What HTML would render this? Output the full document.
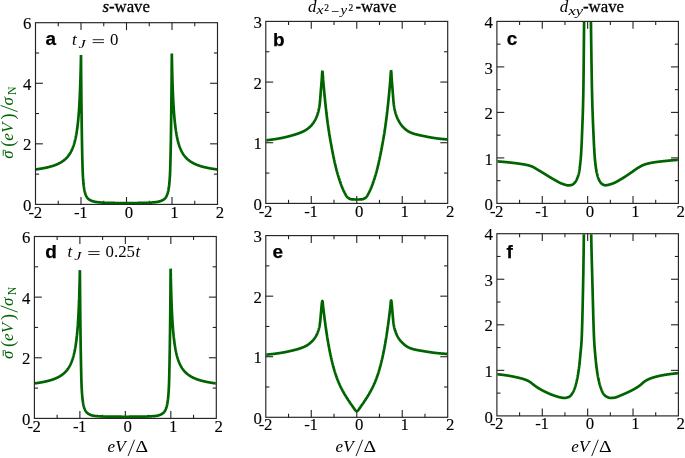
<!DOCTYPE html>
<html><head><meta charset="utf-8"><title>figure</title>
<style>html,body{margin:0;padding:0;background:#fff;}svg{display:block;will-change:transform;}text{font-family:"Liberation Serif",serif;}</style></head>
<body>
<svg width="685" height="458" viewBox="0 0 685 458">
<rect width="685" height="458" fill="#fff"/>
<defs>
<clipPath id="clipa"><rect x="36.00" y="23.20" width="181.00" height="181.10"/></clipPath>
<clipPath id="clipb"><rect x="266.30" y="21.90" width="180.90" height="181.40"/></clipPath>
<clipPath id="clipc"><rect x="497.40" y="21.90" width="180.50" height="181.40"/></clipPath>
<clipPath id="clipd"><rect x="34.90" y="237.00" width="180.90" height="181.30"/></clipPath>
<clipPath id="clipe"><rect x="266.30" y="236.10" width="180.90" height="181.10"/></clipPath>
<clipPath id="clipf"><rect x="497.40" y="234.20" width="180.50" height="181.60"/></clipPath>
</defs>
<line x1="58.25" y1="204.40" x2="58.25" y2="200.80" stroke="#222" stroke-width="1.1"/>
<line x1="58.25" y1="22.70" x2="58.25" y2="26.30" stroke="#222" stroke-width="1.1"/>
<line x1="81.00" y1="204.40" x2="81.00" y2="197.00" stroke="#222" stroke-width="1.1"/>
<line x1="81.00" y1="22.70" x2="81.00" y2="30.10" stroke="#222" stroke-width="1.1"/>
<line x1="103.75" y1="204.40" x2="103.75" y2="200.80" stroke="#222" stroke-width="1.1"/>
<line x1="103.75" y1="22.70" x2="103.75" y2="26.30" stroke="#222" stroke-width="1.1"/>
<line x1="126.50" y1="204.40" x2="126.50" y2="197.00" stroke="#222" stroke-width="1.1"/>
<line x1="126.50" y1="22.70" x2="126.50" y2="30.10" stroke="#222" stroke-width="1.1"/>
<line x1="149.25" y1="204.40" x2="149.25" y2="200.80" stroke="#222" stroke-width="1.1"/>
<line x1="149.25" y1="22.70" x2="149.25" y2="26.30" stroke="#222" stroke-width="1.1"/>
<line x1="172.00" y1="204.40" x2="172.00" y2="197.00" stroke="#222" stroke-width="1.1"/>
<line x1="172.00" y1="22.70" x2="172.00" y2="30.10" stroke="#222" stroke-width="1.1"/>
<line x1="194.75" y1="204.40" x2="194.75" y2="200.80" stroke="#222" stroke-width="1.1"/>
<line x1="194.75" y1="22.70" x2="194.75" y2="26.30" stroke="#222" stroke-width="1.1"/>
<line x1="35.50" y1="143.83" x2="42.90" y2="143.83" stroke="#222" stroke-width="1.1"/>
<line x1="217.50" y1="143.83" x2="210.10" y2="143.83" stroke="#222" stroke-width="1.1"/>
<line x1="35.50" y1="83.27" x2="42.90" y2="83.27" stroke="#222" stroke-width="1.1"/>
<line x1="217.50" y1="83.27" x2="210.10" y2="83.27" stroke="#222" stroke-width="1.1"/>
<line x1="35.50" y1="174.12" x2="39.10" y2="174.12" stroke="#222" stroke-width="1.1"/>
<line x1="217.50" y1="174.12" x2="213.90" y2="174.12" stroke="#222" stroke-width="1.1"/>
<line x1="35.50" y1="113.55" x2="39.10" y2="113.55" stroke="#222" stroke-width="1.1"/>
<line x1="217.50" y1="113.55" x2="213.90" y2="113.55" stroke="#222" stroke-width="1.1"/>
<line x1="35.50" y1="52.98" x2="39.10" y2="52.98" stroke="#222" stroke-width="1.1"/>
<line x1="217.50" y1="52.98" x2="213.90" y2="52.98" stroke="#222" stroke-width="1.1"/>
<rect x="35.50" y="22.70" width="182.00" height="181.70" fill="none" stroke="#222" stroke-width="1.15"/>
<text x="31.50" y="211.00" text-anchor="end" fill="#000" stroke="#000" stroke-width="0.12" style='font-family:"Liberation Serif", serif;font-size:16.8px;' >0</text>
<text x="31.50" y="150.43" text-anchor="end" fill="#000" stroke="#000" stroke-width="0.12" style='font-family:"Liberation Serif", serif;font-size:16.8px;' >2</text>
<text x="31.50" y="89.87" text-anchor="end" fill="#000" stroke="#000" stroke-width="0.12" style='font-family:"Liberation Serif", serif;font-size:16.8px;' >4</text>
<text x="31.50" y="29.30" text-anchor="end" fill="#000" stroke="#000" stroke-width="0.12" style='font-family:"Liberation Serif", serif;font-size:16.8px;' >6</text>
<text x="37.90" y="217.50" text-anchor="middle" fill="#000" stroke="#000" stroke-width="0.12" style='font-family:"Liberation Serif", serif;font-size:16.8px;' >2</text>
<text x="34.10" y="217.50" text-anchor="end" fill="#000" stroke="#000" stroke-width="0.12" style='font-family:"Liberation Serif", serif;font-size:16.8px;' >-</text>
<text x="83.40" y="217.50" text-anchor="middle" fill="#000" stroke="#000" stroke-width="0.12" style='font-family:"Liberation Serif", serif;font-size:16.8px;' >1</text>
<text x="79.60" y="217.50" text-anchor="end" fill="#000" stroke="#000" stroke-width="0.12" style='font-family:"Liberation Serif", serif;font-size:16.8px;' >-</text>
<text x="128.90" y="217.50" text-anchor="middle" fill="#000" stroke="#000" stroke-width="0.12" style='font-family:"Liberation Serif", serif;font-size:16.8px;' >0</text>
<text x="174.40" y="217.50" text-anchor="middle" fill="#000" stroke="#000" stroke-width="0.12" style='font-family:"Liberation Serif", serif;font-size:16.8px;' >1</text>
<text x="219.90" y="217.50" text-anchor="middle" fill="#000" stroke="#000" stroke-width="0.12" style='font-family:"Liberation Serif", serif;font-size:16.8px;' >2</text>
<line x1="288.54" y1="203.40" x2="288.54" y2="199.80" stroke="#222" stroke-width="1.1"/>
<line x1="288.54" y1="21.40" x2="288.54" y2="25.00" stroke="#222" stroke-width="1.1"/>
<line x1="311.27" y1="203.40" x2="311.27" y2="196.00" stroke="#222" stroke-width="1.1"/>
<line x1="311.27" y1="21.40" x2="311.27" y2="28.80" stroke="#222" stroke-width="1.1"/>
<line x1="334.01" y1="203.40" x2="334.01" y2="199.80" stroke="#222" stroke-width="1.1"/>
<line x1="334.01" y1="21.40" x2="334.01" y2="25.00" stroke="#222" stroke-width="1.1"/>
<line x1="356.75" y1="203.40" x2="356.75" y2="196.00" stroke="#222" stroke-width="1.1"/>
<line x1="356.75" y1="21.40" x2="356.75" y2="28.80" stroke="#222" stroke-width="1.1"/>
<line x1="379.49" y1="203.40" x2="379.49" y2="199.80" stroke="#222" stroke-width="1.1"/>
<line x1="379.49" y1="21.40" x2="379.49" y2="25.00" stroke="#222" stroke-width="1.1"/>
<line x1="402.23" y1="203.40" x2="402.23" y2="196.00" stroke="#222" stroke-width="1.1"/>
<line x1="402.23" y1="21.40" x2="402.23" y2="28.80" stroke="#222" stroke-width="1.1"/>
<line x1="424.96" y1="203.40" x2="424.96" y2="199.80" stroke="#222" stroke-width="1.1"/>
<line x1="424.96" y1="21.40" x2="424.96" y2="25.00" stroke="#222" stroke-width="1.1"/>
<line x1="265.80" y1="142.73" x2="273.20" y2="142.73" stroke="#222" stroke-width="1.1"/>
<line x1="447.70" y1="142.73" x2="440.30" y2="142.73" stroke="#222" stroke-width="1.1"/>
<line x1="265.80" y1="82.07" x2="273.20" y2="82.07" stroke="#222" stroke-width="1.1"/>
<line x1="447.70" y1="82.07" x2="440.30" y2="82.07" stroke="#222" stroke-width="1.1"/>
<line x1="265.80" y1="173.07" x2="269.40" y2="173.07" stroke="#222" stroke-width="1.1"/>
<line x1="447.70" y1="173.07" x2="444.10" y2="173.07" stroke="#222" stroke-width="1.1"/>
<line x1="265.80" y1="112.40" x2="269.40" y2="112.40" stroke="#222" stroke-width="1.1"/>
<line x1="447.70" y1="112.40" x2="444.10" y2="112.40" stroke="#222" stroke-width="1.1"/>
<line x1="265.80" y1="51.73" x2="269.40" y2="51.73" stroke="#222" stroke-width="1.1"/>
<line x1="447.70" y1="51.73" x2="444.10" y2="51.73" stroke="#222" stroke-width="1.1"/>
<rect x="265.80" y="21.40" width="181.90" height="182.00" fill="none" stroke="#222" stroke-width="1.15"/>
<text x="261.80" y="210.00" text-anchor="end" fill="#000" stroke="#000" stroke-width="0.12" style='font-family:"Liberation Serif", serif;font-size:16.8px;' >0</text>
<text x="261.80" y="149.33" text-anchor="end" fill="#000" stroke="#000" stroke-width="0.12" style='font-family:"Liberation Serif", serif;font-size:16.8px;' >1</text>
<text x="261.80" y="88.67" text-anchor="end" fill="#000" stroke="#000" stroke-width="0.12" style='font-family:"Liberation Serif", serif;font-size:16.8px;' >2</text>
<text x="261.80" y="28.00" text-anchor="end" fill="#000" stroke="#000" stroke-width="0.12" style='font-family:"Liberation Serif", serif;font-size:16.8px;' >3</text>
<text x="268.20" y="216.50" text-anchor="middle" fill="#000" stroke="#000" stroke-width="0.12" style='font-family:"Liberation Serif", serif;font-size:16.8px;' >2</text>
<text x="264.40" y="216.50" text-anchor="end" fill="#000" stroke="#000" stroke-width="0.12" style='font-family:"Liberation Serif", serif;font-size:16.8px;' >-</text>
<text x="313.67" y="216.50" text-anchor="middle" fill="#000" stroke="#000" stroke-width="0.12" style='font-family:"Liberation Serif", serif;font-size:16.8px;' >1</text>
<text x="309.87" y="216.50" text-anchor="end" fill="#000" stroke="#000" stroke-width="0.12" style='font-family:"Liberation Serif", serif;font-size:16.8px;' >-</text>
<text x="359.15" y="216.50" text-anchor="middle" fill="#000" stroke="#000" stroke-width="0.12" style='font-family:"Liberation Serif", serif;font-size:16.8px;' >0</text>
<text x="404.62" y="216.50" text-anchor="middle" fill="#000" stroke="#000" stroke-width="0.12" style='font-family:"Liberation Serif", serif;font-size:16.8px;' >1</text>
<text x="450.10" y="216.50" text-anchor="middle" fill="#000" stroke="#000" stroke-width="0.12" style='font-family:"Liberation Serif", serif;font-size:16.8px;' >2</text>
<line x1="519.59" y1="203.40" x2="519.59" y2="199.80" stroke="#222" stroke-width="1.1"/>
<line x1="519.59" y1="21.40" x2="519.59" y2="25.00" stroke="#222" stroke-width="1.1"/>
<line x1="542.27" y1="203.40" x2="542.27" y2="196.00" stroke="#222" stroke-width="1.1"/>
<line x1="542.27" y1="21.40" x2="542.27" y2="28.80" stroke="#222" stroke-width="1.1"/>
<line x1="564.96" y1="203.40" x2="564.96" y2="199.80" stroke="#222" stroke-width="1.1"/>
<line x1="564.96" y1="21.40" x2="564.96" y2="25.00" stroke="#222" stroke-width="1.1"/>
<line x1="587.65" y1="203.40" x2="587.65" y2="196.00" stroke="#222" stroke-width="1.1"/>
<line x1="587.65" y1="21.40" x2="587.65" y2="28.80" stroke="#222" stroke-width="1.1"/>
<line x1="610.34" y1="203.40" x2="610.34" y2="199.80" stroke="#222" stroke-width="1.1"/>
<line x1="610.34" y1="21.40" x2="610.34" y2="25.00" stroke="#222" stroke-width="1.1"/>
<line x1="633.02" y1="203.40" x2="633.02" y2="196.00" stroke="#222" stroke-width="1.1"/>
<line x1="633.02" y1="21.40" x2="633.02" y2="28.80" stroke="#222" stroke-width="1.1"/>
<line x1="655.71" y1="203.40" x2="655.71" y2="199.80" stroke="#222" stroke-width="1.1"/>
<line x1="655.71" y1="21.40" x2="655.71" y2="25.00" stroke="#222" stroke-width="1.1"/>
<line x1="496.90" y1="157.90" x2="504.30" y2="157.90" stroke="#222" stroke-width="1.1"/>
<line x1="678.40" y1="157.90" x2="671.00" y2="157.90" stroke="#222" stroke-width="1.1"/>
<line x1="496.90" y1="112.40" x2="504.30" y2="112.40" stroke="#222" stroke-width="1.1"/>
<line x1="678.40" y1="112.40" x2="671.00" y2="112.40" stroke="#222" stroke-width="1.1"/>
<line x1="496.90" y1="66.90" x2="504.30" y2="66.90" stroke="#222" stroke-width="1.1"/>
<line x1="678.40" y1="66.90" x2="671.00" y2="66.90" stroke="#222" stroke-width="1.1"/>
<line x1="496.90" y1="180.65" x2="500.50" y2="180.65" stroke="#222" stroke-width="1.1"/>
<line x1="678.40" y1="180.65" x2="674.80" y2="180.65" stroke="#222" stroke-width="1.1"/>
<line x1="496.90" y1="135.15" x2="500.50" y2="135.15" stroke="#222" stroke-width="1.1"/>
<line x1="678.40" y1="135.15" x2="674.80" y2="135.15" stroke="#222" stroke-width="1.1"/>
<line x1="496.90" y1="89.65" x2="500.50" y2="89.65" stroke="#222" stroke-width="1.1"/>
<line x1="678.40" y1="89.65" x2="674.80" y2="89.65" stroke="#222" stroke-width="1.1"/>
<line x1="496.90" y1="44.15" x2="500.50" y2="44.15" stroke="#222" stroke-width="1.1"/>
<line x1="678.40" y1="44.15" x2="674.80" y2="44.15" stroke="#222" stroke-width="1.1"/>
<rect x="496.90" y="21.40" width="181.50" height="182.00" fill="none" stroke="#222" stroke-width="1.15"/>
<text x="492.90" y="210.00" text-anchor="end" fill="#000" stroke="#000" stroke-width="0.12" style='font-family:"Liberation Serif", serif;font-size:16.8px;' >0</text>
<text x="492.90" y="164.50" text-anchor="end" fill="#000" stroke="#000" stroke-width="0.12" style='font-family:"Liberation Serif", serif;font-size:16.8px;' >1</text>
<text x="492.90" y="119.00" text-anchor="end" fill="#000" stroke="#000" stroke-width="0.12" style='font-family:"Liberation Serif", serif;font-size:16.8px;' >2</text>
<text x="492.90" y="73.50" text-anchor="end" fill="#000" stroke="#000" stroke-width="0.12" style='font-family:"Liberation Serif", serif;font-size:16.8px;' >3</text>
<text x="492.90" y="28.00" text-anchor="end" fill="#000" stroke="#000" stroke-width="0.12" style='font-family:"Liberation Serif", serif;font-size:16.8px;' >4</text>
<text x="499.30" y="216.50" text-anchor="middle" fill="#000" stroke="#000" stroke-width="0.12" style='font-family:"Liberation Serif", serif;font-size:16.8px;' >2</text>
<text x="495.50" y="216.50" text-anchor="end" fill="#000" stroke="#000" stroke-width="0.12" style='font-family:"Liberation Serif", serif;font-size:16.8px;' >-</text>
<text x="544.67" y="216.50" text-anchor="middle" fill="#000" stroke="#000" stroke-width="0.12" style='font-family:"Liberation Serif", serif;font-size:16.8px;' >1</text>
<text x="540.88" y="216.50" text-anchor="end" fill="#000" stroke="#000" stroke-width="0.12" style='font-family:"Liberation Serif", serif;font-size:16.8px;' >-</text>
<text x="590.05" y="216.50" text-anchor="middle" fill="#000" stroke="#000" stroke-width="0.12" style='font-family:"Liberation Serif", serif;font-size:16.8px;' >0</text>
<text x="635.42" y="216.50" text-anchor="middle" fill="#000" stroke="#000" stroke-width="0.12" style='font-family:"Liberation Serif", serif;font-size:16.8px;' >1</text>
<text x="680.80" y="216.50" text-anchor="middle" fill="#000" stroke="#000" stroke-width="0.12" style='font-family:"Liberation Serif", serif;font-size:16.8px;' >2</text>
<line x1="57.14" y1="418.40" x2="57.14" y2="414.80" stroke="#222" stroke-width="1.1"/>
<line x1="57.14" y1="236.50" x2="57.14" y2="240.10" stroke="#222" stroke-width="1.1"/>
<line x1="79.88" y1="418.40" x2="79.88" y2="411.00" stroke="#222" stroke-width="1.1"/>
<line x1="79.88" y1="236.50" x2="79.88" y2="243.90" stroke="#222" stroke-width="1.1"/>
<line x1="102.61" y1="418.40" x2="102.61" y2="414.80" stroke="#222" stroke-width="1.1"/>
<line x1="102.61" y1="236.50" x2="102.61" y2="240.10" stroke="#222" stroke-width="1.1"/>
<line x1="125.35" y1="418.40" x2="125.35" y2="411.00" stroke="#222" stroke-width="1.1"/>
<line x1="125.35" y1="236.50" x2="125.35" y2="243.90" stroke="#222" stroke-width="1.1"/>
<line x1="148.09" y1="418.40" x2="148.09" y2="414.80" stroke="#222" stroke-width="1.1"/>
<line x1="148.09" y1="236.50" x2="148.09" y2="240.10" stroke="#222" stroke-width="1.1"/>
<line x1="170.83" y1="418.40" x2="170.83" y2="411.00" stroke="#222" stroke-width="1.1"/>
<line x1="170.83" y1="236.50" x2="170.83" y2="243.90" stroke="#222" stroke-width="1.1"/>
<line x1="193.56" y1="418.40" x2="193.56" y2="414.80" stroke="#222" stroke-width="1.1"/>
<line x1="193.56" y1="236.50" x2="193.56" y2="240.10" stroke="#222" stroke-width="1.1"/>
<line x1="34.40" y1="357.77" x2="41.80" y2="357.77" stroke="#222" stroke-width="1.1"/>
<line x1="216.30" y1="357.77" x2="208.90" y2="357.77" stroke="#222" stroke-width="1.1"/>
<line x1="34.40" y1="297.13" x2="41.80" y2="297.13" stroke="#222" stroke-width="1.1"/>
<line x1="216.30" y1="297.13" x2="208.90" y2="297.13" stroke="#222" stroke-width="1.1"/>
<line x1="34.40" y1="388.08" x2="38.00" y2="388.08" stroke="#222" stroke-width="1.1"/>
<line x1="216.30" y1="388.08" x2="212.70" y2="388.08" stroke="#222" stroke-width="1.1"/>
<line x1="34.40" y1="327.45" x2="38.00" y2="327.45" stroke="#222" stroke-width="1.1"/>
<line x1="216.30" y1="327.45" x2="212.70" y2="327.45" stroke="#222" stroke-width="1.1"/>
<line x1="34.40" y1="266.82" x2="38.00" y2="266.82" stroke="#222" stroke-width="1.1"/>
<line x1="216.30" y1="266.82" x2="212.70" y2="266.82" stroke="#222" stroke-width="1.1"/>
<rect x="34.40" y="236.50" width="181.90" height="181.90" fill="none" stroke="#222" stroke-width="1.15"/>
<text x="30.40" y="425.00" text-anchor="end" fill="#000" stroke="#000" stroke-width="0.12" style='font-family:"Liberation Serif", serif;font-size:16.8px;' >0</text>
<text x="30.40" y="364.37" text-anchor="end" fill="#000" stroke="#000" stroke-width="0.12" style='font-family:"Liberation Serif", serif;font-size:16.8px;' >2</text>
<text x="30.40" y="303.73" text-anchor="end" fill="#000" stroke="#000" stroke-width="0.12" style='font-family:"Liberation Serif", serif;font-size:16.8px;' >4</text>
<text x="30.40" y="243.10" text-anchor="end" fill="#000" stroke="#000" stroke-width="0.12" style='font-family:"Liberation Serif", serif;font-size:16.8px;' >6</text>
<text x="36.80" y="431.50" text-anchor="middle" fill="#000" stroke="#000" stroke-width="0.12" style='font-family:"Liberation Serif", serif;font-size:16.8px;' >2</text>
<text x="33.00" y="431.50" text-anchor="end" fill="#000" stroke="#000" stroke-width="0.12" style='font-family:"Liberation Serif", serif;font-size:16.8px;' >-</text>
<text x="82.28" y="431.50" text-anchor="middle" fill="#000" stroke="#000" stroke-width="0.12" style='font-family:"Liberation Serif", serif;font-size:16.8px;' >1</text>
<text x="78.48" y="431.50" text-anchor="end" fill="#000" stroke="#000" stroke-width="0.12" style='font-family:"Liberation Serif", serif;font-size:16.8px;' >-</text>
<text x="127.75" y="431.50" text-anchor="middle" fill="#000" stroke="#000" stroke-width="0.12" style='font-family:"Liberation Serif", serif;font-size:16.8px;' >0</text>
<text x="173.23" y="431.50" text-anchor="middle" fill="#000" stroke="#000" stroke-width="0.12" style='font-family:"Liberation Serif", serif;font-size:16.8px;' >1</text>
<text x="218.70" y="431.50" text-anchor="middle" fill="#000" stroke="#000" stroke-width="0.12" style='font-family:"Liberation Serif", serif;font-size:16.8px;' >2</text>
<line x1="288.54" y1="417.30" x2="288.54" y2="413.70" stroke="#222" stroke-width="1.1"/>
<line x1="288.54" y1="235.60" x2="288.54" y2="239.20" stroke="#222" stroke-width="1.1"/>
<line x1="311.27" y1="417.30" x2="311.27" y2="409.90" stroke="#222" stroke-width="1.1"/>
<line x1="311.27" y1="235.60" x2="311.27" y2="243.00" stroke="#222" stroke-width="1.1"/>
<line x1="334.01" y1="417.30" x2="334.01" y2="413.70" stroke="#222" stroke-width="1.1"/>
<line x1="334.01" y1="235.60" x2="334.01" y2="239.20" stroke="#222" stroke-width="1.1"/>
<line x1="356.75" y1="417.30" x2="356.75" y2="409.90" stroke="#222" stroke-width="1.1"/>
<line x1="356.75" y1="235.60" x2="356.75" y2="243.00" stroke="#222" stroke-width="1.1"/>
<line x1="379.49" y1="417.30" x2="379.49" y2="413.70" stroke="#222" stroke-width="1.1"/>
<line x1="379.49" y1="235.60" x2="379.49" y2="239.20" stroke="#222" stroke-width="1.1"/>
<line x1="402.23" y1="417.30" x2="402.23" y2="409.90" stroke="#222" stroke-width="1.1"/>
<line x1="402.23" y1="235.60" x2="402.23" y2="243.00" stroke="#222" stroke-width="1.1"/>
<line x1="424.96" y1="417.30" x2="424.96" y2="413.70" stroke="#222" stroke-width="1.1"/>
<line x1="424.96" y1="235.60" x2="424.96" y2="239.20" stroke="#222" stroke-width="1.1"/>
<line x1="265.80" y1="356.73" x2="273.20" y2="356.73" stroke="#222" stroke-width="1.1"/>
<line x1="447.70" y1="356.73" x2="440.30" y2="356.73" stroke="#222" stroke-width="1.1"/>
<line x1="265.80" y1="296.17" x2="273.20" y2="296.17" stroke="#222" stroke-width="1.1"/>
<line x1="447.70" y1="296.17" x2="440.30" y2="296.17" stroke="#222" stroke-width="1.1"/>
<line x1="265.80" y1="387.02" x2="269.40" y2="387.02" stroke="#222" stroke-width="1.1"/>
<line x1="447.70" y1="387.02" x2="444.10" y2="387.02" stroke="#222" stroke-width="1.1"/>
<line x1="265.80" y1="326.45" x2="269.40" y2="326.45" stroke="#222" stroke-width="1.1"/>
<line x1="447.70" y1="326.45" x2="444.10" y2="326.45" stroke="#222" stroke-width="1.1"/>
<line x1="265.80" y1="265.88" x2="269.40" y2="265.88" stroke="#222" stroke-width="1.1"/>
<line x1="447.70" y1="265.88" x2="444.10" y2="265.88" stroke="#222" stroke-width="1.1"/>
<rect x="265.80" y="235.60" width="181.90" height="181.70" fill="none" stroke="#222" stroke-width="1.15"/>
<text x="261.80" y="423.90" text-anchor="end" fill="#000" stroke="#000" stroke-width="0.12" style='font-family:"Liberation Serif", serif;font-size:16.8px;' >0</text>
<text x="261.80" y="363.33" text-anchor="end" fill="#000" stroke="#000" stroke-width="0.12" style='font-family:"Liberation Serif", serif;font-size:16.8px;' >1</text>
<text x="261.80" y="302.77" text-anchor="end" fill="#000" stroke="#000" stroke-width="0.12" style='font-family:"Liberation Serif", serif;font-size:16.8px;' >2</text>
<text x="261.80" y="242.20" text-anchor="end" fill="#000" stroke="#000" stroke-width="0.12" style='font-family:"Liberation Serif", serif;font-size:16.8px;' >3</text>
<text x="268.20" y="430.40" text-anchor="middle" fill="#000" stroke="#000" stroke-width="0.12" style='font-family:"Liberation Serif", serif;font-size:16.8px;' >2</text>
<text x="264.40" y="430.40" text-anchor="end" fill="#000" stroke="#000" stroke-width="0.12" style='font-family:"Liberation Serif", serif;font-size:16.8px;' >-</text>
<text x="313.67" y="430.40" text-anchor="middle" fill="#000" stroke="#000" stroke-width="0.12" style='font-family:"Liberation Serif", serif;font-size:16.8px;' >1</text>
<text x="309.87" y="430.40" text-anchor="end" fill="#000" stroke="#000" stroke-width="0.12" style='font-family:"Liberation Serif", serif;font-size:16.8px;' >-</text>
<text x="359.15" y="430.40" text-anchor="middle" fill="#000" stroke="#000" stroke-width="0.12" style='font-family:"Liberation Serif", serif;font-size:16.8px;' >0</text>
<text x="404.62" y="430.40" text-anchor="middle" fill="#000" stroke="#000" stroke-width="0.12" style='font-family:"Liberation Serif", serif;font-size:16.8px;' >1</text>
<text x="450.10" y="430.40" text-anchor="middle" fill="#000" stroke="#000" stroke-width="0.12" style='font-family:"Liberation Serif", serif;font-size:16.8px;' >2</text>
<line x1="519.59" y1="415.90" x2="519.59" y2="412.30" stroke="#222" stroke-width="1.1"/>
<line x1="519.59" y1="233.70" x2="519.59" y2="237.30" stroke="#222" stroke-width="1.1"/>
<line x1="542.27" y1="415.90" x2="542.27" y2="408.50" stroke="#222" stroke-width="1.1"/>
<line x1="542.27" y1="233.70" x2="542.27" y2="241.10" stroke="#222" stroke-width="1.1"/>
<line x1="564.96" y1="415.90" x2="564.96" y2="412.30" stroke="#222" stroke-width="1.1"/>
<line x1="564.96" y1="233.70" x2="564.96" y2="237.30" stroke="#222" stroke-width="1.1"/>
<line x1="587.65" y1="415.90" x2="587.65" y2="408.50" stroke="#222" stroke-width="1.1"/>
<line x1="587.65" y1="233.70" x2="587.65" y2="241.10" stroke="#222" stroke-width="1.1"/>
<line x1="610.34" y1="415.90" x2="610.34" y2="412.30" stroke="#222" stroke-width="1.1"/>
<line x1="610.34" y1="233.70" x2="610.34" y2="237.30" stroke="#222" stroke-width="1.1"/>
<line x1="633.02" y1="415.90" x2="633.02" y2="408.50" stroke="#222" stroke-width="1.1"/>
<line x1="633.02" y1="233.70" x2="633.02" y2="241.10" stroke="#222" stroke-width="1.1"/>
<line x1="655.71" y1="415.90" x2="655.71" y2="412.30" stroke="#222" stroke-width="1.1"/>
<line x1="655.71" y1="233.70" x2="655.71" y2="237.30" stroke="#222" stroke-width="1.1"/>
<line x1="496.90" y1="370.35" x2="504.30" y2="370.35" stroke="#222" stroke-width="1.1"/>
<line x1="678.40" y1="370.35" x2="671.00" y2="370.35" stroke="#222" stroke-width="1.1"/>
<line x1="496.90" y1="324.80" x2="504.30" y2="324.80" stroke="#222" stroke-width="1.1"/>
<line x1="678.40" y1="324.80" x2="671.00" y2="324.80" stroke="#222" stroke-width="1.1"/>
<line x1="496.90" y1="279.25" x2="504.30" y2="279.25" stroke="#222" stroke-width="1.1"/>
<line x1="678.40" y1="279.25" x2="671.00" y2="279.25" stroke="#222" stroke-width="1.1"/>
<line x1="496.90" y1="393.12" x2="500.50" y2="393.12" stroke="#222" stroke-width="1.1"/>
<line x1="678.40" y1="393.12" x2="674.80" y2="393.12" stroke="#222" stroke-width="1.1"/>
<line x1="496.90" y1="347.57" x2="500.50" y2="347.57" stroke="#222" stroke-width="1.1"/>
<line x1="678.40" y1="347.57" x2="674.80" y2="347.57" stroke="#222" stroke-width="1.1"/>
<line x1="496.90" y1="302.02" x2="500.50" y2="302.02" stroke="#222" stroke-width="1.1"/>
<line x1="678.40" y1="302.02" x2="674.80" y2="302.02" stroke="#222" stroke-width="1.1"/>
<line x1="496.90" y1="256.48" x2="500.50" y2="256.48" stroke="#222" stroke-width="1.1"/>
<line x1="678.40" y1="256.48" x2="674.80" y2="256.48" stroke="#222" stroke-width="1.1"/>
<rect x="496.90" y="233.70" width="181.50" height="182.20" fill="none" stroke="#222" stroke-width="1.15"/>
<text x="492.90" y="422.50" text-anchor="end" fill="#000" stroke="#000" stroke-width="0.12" style='font-family:"Liberation Serif", serif;font-size:16.8px;' >0</text>
<text x="492.90" y="376.95" text-anchor="end" fill="#000" stroke="#000" stroke-width="0.12" style='font-family:"Liberation Serif", serif;font-size:16.8px;' >1</text>
<text x="492.90" y="331.40" text-anchor="end" fill="#000" stroke="#000" stroke-width="0.12" style='font-family:"Liberation Serif", serif;font-size:16.8px;' >2</text>
<text x="492.90" y="285.85" text-anchor="end" fill="#000" stroke="#000" stroke-width="0.12" style='font-family:"Liberation Serif", serif;font-size:16.8px;' >3</text>
<text x="492.90" y="240.30" text-anchor="end" fill="#000" stroke="#000" stroke-width="0.12" style='font-family:"Liberation Serif", serif;font-size:16.8px;' >4</text>
<text x="499.30" y="429.00" text-anchor="middle" fill="#000" stroke="#000" stroke-width="0.12" style='font-family:"Liberation Serif", serif;font-size:16.8px;' >2</text>
<text x="495.50" y="429.00" text-anchor="end" fill="#000" stroke="#000" stroke-width="0.12" style='font-family:"Liberation Serif", serif;font-size:16.8px;' >-</text>
<text x="544.67" y="429.00" text-anchor="middle" fill="#000" stroke="#000" stroke-width="0.12" style='font-family:"Liberation Serif", serif;font-size:16.8px;' >1</text>
<text x="540.88" y="429.00" text-anchor="end" fill="#000" stroke="#000" stroke-width="0.12" style='font-family:"Liberation Serif", serif;font-size:16.8px;' >-</text>
<text x="590.05" y="429.00" text-anchor="middle" fill="#000" stroke="#000" stroke-width="0.12" style='font-family:"Liberation Serif", serif;font-size:16.8px;' >0</text>
<text x="635.42" y="429.00" text-anchor="middle" fill="#000" stroke="#000" stroke-width="0.12" style='font-family:"Liberation Serif", serif;font-size:16.8px;' >1</text>
<text x="680.80" y="429.00" text-anchor="middle" fill="#000" stroke="#000" stroke-width="0.12" style='font-family:"Liberation Serif", serif;font-size:16.8px;' >2</text>
<path d="M35.50,169.43 L35.68,169.41 L35.86,169.38 L36.05,169.36 L36.23,169.34 L36.41,169.31 L36.59,169.29 L36.77,169.26 L36.96,169.24 L37.14,169.21 L37.32,169.19 L37.50,169.16 L37.68,169.14 L37.87,169.11 L38.05,169.09 L38.23,169.06 L38.41,169.03 L38.59,169.01 L38.78,168.98 L38.96,168.95 L39.14,168.93 L39.32,168.90 L39.50,168.87 L39.69,168.84 L39.87,168.81 L40.05,168.78 L40.23,168.76 L40.41,168.73 L40.60,168.70 L40.78,168.67 L40.96,168.64 L41.14,168.61 L41.32,168.58 L41.51,168.55 L41.69,168.52 L41.87,168.48 L42.05,168.45 L42.23,168.42 L42.42,168.39 L42.60,168.36 L42.78,168.32 L42.96,168.29 L43.14,168.26 L43.33,168.22 L43.51,168.19 L43.69,168.16 L43.87,168.12 L44.05,168.09 L44.24,168.05 L44.42,168.01 L44.60,167.98 L44.78,167.94 L44.96,167.91 L45.15,167.87 L45.33,167.83 L45.51,167.79 L45.69,167.76 L45.87,167.72 L46.06,167.68 L46.24,167.64 L46.42,167.60 L46.60,167.56 L46.78,167.52 L46.97,167.48 L47.15,167.44 L47.33,167.39 L47.51,167.35 L47.69,167.31 L47.88,167.27 L48.06,167.22 L48.24,167.18 L48.42,167.14 L48.60,167.09 L48.79,167.04 L48.97,167.00 L49.15,166.95 L49.33,166.91 L49.51,166.86 L49.70,166.81 L49.88,166.76 L50.06,166.71 L50.24,166.66 L50.42,166.61 L50.61,166.56 L50.79,166.51 L50.97,166.46 L51.15,166.41 L51.33,166.35 L51.52,166.30 L51.70,166.25 L51.88,166.19 L52.06,166.14 L52.24,166.08 L52.43,166.02 L52.61,165.97 L52.79,165.91 L52.97,165.85 L53.15,165.79 L53.34,165.73 L53.52,165.67 L53.70,165.61 L53.88,165.54 L54.06,165.48 L54.25,165.42 L54.43,165.35 L54.61,165.29 L54.79,165.22 L54.97,165.15 L55.16,165.08 L55.34,165.01 L55.52,164.94 L55.70,164.87 L55.88,164.80 L56.07,164.73 L56.25,164.65 L56.43,164.58 L56.61,164.50 L56.79,164.43 L56.98,164.35 L57.16,164.27 L57.34,164.19 L57.52,164.11 L57.70,164.03 L57.89,163.94 L58.07,163.86 L58.25,163.77 L58.43,163.68 L58.61,163.60 L58.80,163.51 L58.98,163.41 L59.16,163.32 L59.34,163.23 L59.52,163.13 L59.71,163.04 L59.89,162.94 L60.07,162.84 L60.25,162.74 L60.43,162.63 L60.62,162.53 L60.80,162.42 L60.98,162.32 L61.16,162.21 L61.34,162.09 L61.53,161.98 L61.71,161.87 L61.89,161.75 L62.07,161.63 L62.25,161.51 L62.44,161.39 L62.62,161.26 L62.80,161.13 L62.98,161.00 L63.16,160.87 L63.35,160.74 L63.53,160.60 L63.71,160.46 L63.89,160.32 L64.07,160.18 L64.26,160.03 L64.44,159.88 L64.62,159.73 L64.80,159.57 L64.98,159.41 L65.17,159.25 L65.35,159.09 L65.53,158.92 L65.71,158.75 L65.89,158.57 L66.08,158.39 L66.26,158.21 L66.44,158.02 L66.62,157.83 L66.80,157.64 L66.99,157.44 L67.17,157.24 L67.35,157.03 L67.53,156.82 L67.71,156.60 L67.90,156.38 L68.08,156.16 L68.26,155.92 L68.44,155.69 L68.62,155.44 L68.81,155.19 L68.99,154.94 L69.17,154.68 L69.35,154.41 L69.53,154.13 L69.72,153.85 L69.90,153.56 L70.08,153.27 L70.26,152.96 L70.44,152.65 L70.63,152.33 L70.81,151.99 L70.99,151.65 L71.17,151.30 L71.35,150.94 L71.54,150.57 L71.72,150.19 L71.90,149.79 L72.08,149.39 L72.26,148.97 L72.45,148.54 L72.63,148.09 L72.81,147.63 L72.99,147.15 L73.17,146.66 L73.36,146.15 L73.54,145.62 L73.72,145.07 L73.90,144.50 L74.08,143.91 L74.27,143.29 L74.45,142.66 L74.63,142.00 L74.81,141.31 L74.99,140.59 L75.18,139.84 L75.36,139.06 L75.54,138.24 L75.72,137.38 L75.90,136.49 L76.09,135.55 L76.27,134.57 L76.45,133.53 L76.63,132.45 L76.81,131.30 L77.00,130.09 L77.18,128.81 L77.36,127.46 L77.54,126.03 L77.72,124.50 L77.91,122.88 L78.09,121.15 L78.27,119.29 L78.45,117.30 L78.63,115.16 L78.82,112.85 L79.00,110.35 L79.18,107.62 L79.36,104.65 L79.54,101.39 L79.73,97.79 L79.91,93.79 L80.09,89.32 L80.27,84.28 L80.45,78.55 L80.64,71.95 L80.82,64.25 L81.00,55.10 L81.18,77.68 L81.36,96.71 L81.55,112.77 L81.73,126.32 L81.91,137.78 L82.09,147.86 L82.27,156.72 L82.46,164.08 L82.64,169.90 L82.82,174.26 L83.00,177.38 L83.18,179.94 L83.37,182.13 L83.55,184.01 L83.73,185.63 L83.91,187.04 L84.09,188.26 L84.28,189.34 L84.46,190.30 L84.64,191.14 L84.82,191.90 L85.00,192.58 L85.19,193.19 L85.37,193.76 L85.55,194.29 L85.73,194.77 L85.91,195.23 L86.10,195.64 L86.28,196.03 L86.46,196.39 L86.64,196.72 L86.82,197.03 L87.01,197.32 L87.19,197.59 L87.37,197.84 L87.55,198.07 L87.73,198.28 L87.92,198.48 L88.10,198.67 L88.28,198.84 L88.46,199.00 L88.64,199.15 L88.83,199.29 L89.01,199.42 L89.19,199.54 L89.37,199.66 L89.55,199.78 L89.74,199.89 L89.92,200.00 L90.10,200.10 L90.28,200.20 L90.46,200.30 L90.65,200.39 L90.83,200.48 L91.01,200.56 L91.19,200.64 L91.37,200.72 L91.56,200.80 L91.74,200.87 L91.92,200.94 L92.10,201.01 L92.28,201.07 L92.47,201.13 L92.65,201.19 L92.83,201.25 L93.01,201.30 L93.19,201.36 L93.38,201.41 L93.56,201.46 L93.74,201.50 L93.92,201.55 L94.10,201.59 L94.29,201.63 L94.47,201.67 L94.65,201.71 L94.83,201.75 L95.01,201.78 L95.20,201.82 L95.38,201.85 L95.56,201.88 L95.74,201.91 L95.92,201.94 L96.11,201.96 L96.29,201.99 L96.47,202.02 L96.65,202.04 L96.83,202.06 L97.02,202.09 L97.20,202.11 L97.38,202.14 L97.56,202.16 L97.74,202.18 L97.93,202.20 L98.11,202.22 L98.29,202.25 L98.47,202.27 L98.65,202.29 L98.84,202.31 L99.02,202.33 L99.20,202.35 L99.38,202.37 L99.56,202.38 L99.75,202.40 L99.93,202.42 L100.11,202.44 L100.29,202.46 L100.47,202.47 L100.66,202.49 L100.84,202.50 L101.02,202.52 L101.20,202.54 L101.38,202.55 L101.57,202.57 L101.75,202.58 L101.93,202.59 L102.11,202.61 L102.29,202.62 L102.48,202.63 L102.66,202.65 L102.84,202.66 L103.02,202.67 L103.20,202.68 L103.39,202.69 L103.57,202.71 L103.75,202.72 L103.93,202.73 L104.11,202.74 L104.30,202.75 L104.48,202.76 L104.66,202.77 L104.84,202.77 L105.02,202.78 L105.21,202.79 L105.39,202.80 L105.57,202.81 L105.75,202.81 L105.93,202.82 L106.12,202.83 L106.30,202.84 L106.48,202.84 L106.66,202.85 L106.84,202.85 L107.03,202.86 L107.21,202.86 L107.39,202.87 L107.57,202.87 L107.75,202.88 L107.94,202.88 L108.12,202.88 L108.30,202.89 L108.48,202.89 L108.66,202.89 L108.85,202.89 L109.03,202.90 L109.21,202.90 L109.39,202.90 L109.57,202.91 L109.76,202.91 L109.94,202.91 L110.12,202.91 L110.30,202.92 L110.48,202.92 L110.67,202.92 L110.85,202.92 L111.03,202.93 L111.21,202.93 L111.39,202.93 L111.58,202.93 L111.76,202.94 L111.94,202.94 L112.12,202.94 L112.30,202.94 L112.49,202.95 L112.67,202.95 L112.85,202.95 L113.03,202.95 L113.21,202.95 L113.40,202.96 L113.58,202.96 L113.76,202.96 L113.94,202.96 L114.12,202.97 L114.31,202.97 L114.49,202.97 L114.67,202.97 L114.85,202.97 L115.03,202.98 L115.22,202.98 L115.40,202.98 L115.58,202.98 L115.76,202.98 L115.94,202.98 L116.13,202.99 L116.31,202.99 L116.49,202.99 L116.67,202.99 L116.85,202.99 L117.04,202.99 L117.22,203.00 L117.40,203.00 L117.58,203.00 L117.76,203.00 L117.95,203.00 L118.13,203.00 L118.31,203.01 L118.49,203.01 L118.67,203.01 L118.86,203.01 L119.04,203.01 L119.22,203.01 L119.40,203.01 L119.58,203.01 L119.77,203.02 L119.95,203.02 L120.13,203.02 L120.31,203.02 L120.49,203.02 L120.68,203.02 L120.86,203.02 L121.04,203.02 L121.22,203.02 L121.40,203.02 L121.59,203.03 L121.77,203.03 L121.95,203.03 L122.13,203.03 L122.31,203.03 L122.50,203.03 L122.68,203.03 L122.86,203.03 L123.04,203.03 L123.22,203.03 L123.41,203.03 L123.59,203.03 L123.77,203.03 L123.95,203.03 L124.13,203.03 L124.32,203.03 L124.50,203.04 L124.68,203.04 L124.86,203.04 L125.04,203.04 L125.23,203.04 L125.41,203.04 L125.59,203.04 L125.77,203.04 L125.95,203.04 L126.14,203.04 L126.32,203.04 L126.50,203.04 L126.68,203.04 L126.86,203.04 L127.05,203.04 L127.23,203.04 L127.41,203.04 L127.59,203.04 L127.77,203.04 L127.96,203.04 L128.14,203.04 L128.32,203.04 L128.50,203.04 L128.68,203.03 L128.87,203.03 L129.05,203.03 L129.23,203.03 L129.41,203.03 L129.59,203.03 L129.78,203.03 L129.96,203.03 L130.14,203.03 L130.32,203.03 L130.50,203.03 L130.69,203.03 L130.87,203.03 L131.05,203.03 L131.23,203.03 L131.41,203.03 L131.60,203.02 L131.78,203.02 L131.96,203.02 L132.14,203.02 L132.32,203.02 L132.51,203.02 L132.69,203.02 L132.87,203.02 L133.05,203.02 L133.23,203.02 L133.42,203.01 L133.60,203.01 L133.78,203.01 L133.96,203.01 L134.14,203.01 L134.33,203.01 L134.51,203.01 L134.69,203.00 L134.87,203.00 L135.05,203.00 L135.24,203.00 L135.42,203.00 L135.60,203.00 L135.78,203.00 L135.96,202.99 L136.15,202.99 L136.33,202.99 L136.51,202.99 L136.69,202.99 L136.87,202.99 L137.06,202.98 L137.24,202.98 L137.42,202.98 L137.60,202.98 L137.78,202.98 L137.97,202.97 L138.15,202.97 L138.33,202.97 L138.51,202.97 L138.69,202.97 L138.88,202.96 L139.06,202.96 L139.24,202.96 L139.42,202.96 L139.60,202.96 L139.79,202.95 L139.97,202.95 L140.15,202.95 L140.33,202.95 L140.51,202.95 L140.70,202.94 L140.88,202.94 L141.06,202.94 L141.24,202.94 L141.42,202.93 L141.61,202.93 L141.79,202.93 L141.97,202.93 L142.15,202.92 L142.33,202.92 L142.52,202.92 L142.70,202.92 L142.88,202.91 L143.06,202.91 L143.24,202.91 L143.43,202.90 L143.61,202.90 L143.79,202.90 L143.97,202.90 L144.15,202.89 L144.34,202.89 L144.52,202.89 L144.70,202.88 L144.88,202.88 L145.06,202.88 L145.25,202.87 L145.43,202.87 L145.61,202.87 L145.79,202.86 L145.97,202.86 L146.16,202.85 L146.34,202.84 L146.52,202.84 L146.70,202.83 L146.88,202.83 L147.07,202.82 L147.25,202.81 L147.43,202.80 L147.61,202.80 L147.79,202.79 L147.98,202.78 L148.16,202.77 L148.34,202.76 L148.52,202.75 L148.70,202.74 L148.89,202.73 L149.07,202.72 L149.25,202.71 L149.43,202.70 L149.61,202.69 L149.80,202.68 L149.98,202.67 L150.16,202.65 L150.34,202.64 L150.52,202.63 L150.71,202.61 L150.89,202.60 L151.07,202.59 L151.25,202.57 L151.43,202.56 L151.62,202.54 L151.80,202.53 L151.98,202.51 L152.16,202.50 L152.34,202.48 L152.53,202.46 L152.71,202.45 L152.89,202.43 L153.07,202.41 L153.25,202.39 L153.44,202.37 L153.62,202.35 L153.80,202.34 L153.98,202.32 L154.16,202.30 L154.35,202.27 L154.53,202.25 L154.71,202.23 L154.89,202.21 L155.07,202.19 L155.26,202.17 L155.44,202.14 L155.62,202.12 L155.80,202.10 L155.98,202.07 L156.17,202.05 L156.35,202.02 L156.53,202.00 L156.71,201.97 L156.89,201.95 L157.08,201.92 L157.26,201.89 L157.44,201.86 L157.62,201.83 L157.80,201.79 L157.99,201.76 L158.17,201.72 L158.35,201.68 L158.53,201.64 L158.71,201.60 L158.90,201.56 L159.08,201.52 L159.26,201.47 L159.44,201.42 L159.62,201.37 L159.81,201.32 L159.99,201.26 L160.17,201.21 L160.35,201.15 L160.53,201.09 L160.72,201.02 L160.90,200.96 L161.08,200.89 L161.26,200.81 L161.44,200.74 L161.63,200.66 L161.81,200.58 L161.99,200.50 L162.17,200.41 L162.35,200.32 L162.54,200.22 L162.72,200.12 L162.90,200.02 L163.08,199.91 L163.26,199.80 L163.45,199.69 L163.63,199.57 L163.81,199.44 L163.99,199.31 L164.17,199.17 L164.36,199.02 L164.54,198.86 L164.72,198.69 L164.90,198.51 L165.08,198.31 L165.27,198.10 L165.45,197.87 L165.63,197.62 L165.81,197.36 L165.99,197.07 L166.18,196.76 L166.36,196.43 L166.54,196.07 L166.72,195.69 L166.90,195.27 L167.09,194.82 L167.27,194.34 L167.45,193.82 L167.63,193.25 L167.81,192.63 L168.00,191.96 L168.18,191.21 L168.36,190.36 L168.54,189.42 L168.72,188.34 L168.91,187.12 L169.09,185.72 L169.27,184.11 L169.45,182.24 L169.63,180.06 L169.82,177.50 L170.00,174.40 L170.18,170.03 L170.36,164.19 L170.54,156.78 L170.73,147.85 L170.91,137.64 L171.09,126.03 L171.27,112.28 L171.45,95.97 L171.64,76.61 L171.82,53.59 L172.00,63.10 L172.18,71.07 L172.36,77.87 L172.55,83.75 L172.73,88.91 L172.91,93.47 L173.09,97.53 L173.27,101.19 L173.46,104.50 L173.64,107.51 L173.82,110.27 L174.00,112.80 L174.18,115.13 L174.37,117.29 L174.55,119.29 L174.73,121.16 L174.91,122.91 L175.09,124.54 L175.28,126.07 L175.46,127.51 L175.64,128.87 L175.82,130.15 L176.00,131.37 L176.19,132.52 L176.37,133.61 L176.55,134.64 L176.73,135.63 L176.91,136.57 L177.10,137.46 L177.28,138.32 L177.46,139.14 L177.64,139.92 L177.82,140.67 L178.01,141.39 L178.19,142.08 L178.37,142.74 L178.55,143.38 L178.73,143.99 L178.92,144.58 L179.10,145.15 L179.28,145.70 L179.46,146.23 L179.64,146.74 L179.83,147.23 L180.01,147.71 L180.19,148.17 L180.37,148.61 L180.55,149.05 L180.74,149.47 L180.92,149.87 L181.10,150.27 L181.28,150.65 L181.46,151.02 L181.65,151.38 L181.83,151.73 L182.01,152.07 L182.19,152.40 L182.37,152.72 L182.56,153.03 L182.74,153.34 L182.92,153.63 L183.10,153.92 L183.28,154.20 L183.47,154.48 L183.65,154.75 L183.83,155.01 L184.01,155.26 L184.19,155.51 L184.38,155.75 L184.56,155.99 L184.74,156.22 L184.92,156.45 L185.10,156.67 L185.29,156.88 L185.47,157.09 L185.65,157.30 L185.83,157.50 L186.01,157.70 L186.20,157.90 L186.38,158.08 L186.56,158.27 L186.74,158.45 L186.92,158.63 L187.11,158.80 L187.29,158.98 L187.47,159.14 L187.65,159.31 L187.83,159.47 L188.02,159.63 L188.20,159.78 L188.38,159.93 L188.56,160.08 L188.74,160.23 L188.93,160.37 L189.11,160.52 L189.29,160.65 L189.47,160.79 L189.65,160.92 L189.84,161.06 L190.02,161.19 L190.20,161.31 L190.38,161.44 L190.56,161.56 L190.75,161.68 L190.93,161.80 L191.11,161.92 L191.29,162.03 L191.47,162.14 L191.66,162.25 L191.84,162.36 L192.02,162.47 L192.20,162.58 L192.38,162.68 L192.57,162.78 L192.75,162.88 L192.93,162.98 L193.11,163.08 L193.29,163.18 L193.48,163.27 L193.66,163.37 L193.84,163.46 L194.02,163.55 L194.20,163.64 L194.39,163.73 L194.57,163.81 L194.75,163.90 L194.93,163.99 L195.11,164.07 L195.30,164.15 L195.48,164.23 L195.66,164.31 L195.84,164.39 L196.02,164.47 L196.21,164.54 L196.39,164.62 L196.57,164.69 L196.75,164.77 L196.93,164.84 L197.12,164.91 L197.30,164.98 L197.48,165.05 L197.66,165.12 L197.84,165.19 L198.03,165.26 L198.21,165.32 L198.39,165.39 L198.57,165.45 L198.75,165.52 L198.94,165.58 L199.12,165.64 L199.30,165.71 L199.48,165.77 L199.66,165.83 L199.85,165.89 L200.03,165.94 L200.21,166.00 L200.39,166.06 L200.57,166.12 L200.76,166.17 L200.94,166.23 L201.12,166.28 L201.30,166.34 L201.48,166.39 L201.67,166.44 L201.85,166.49 L202.03,166.55 L202.21,166.60 L202.39,166.65 L202.58,166.70 L202.76,166.75 L202.94,166.80 L203.12,166.84 L203.30,166.89 L203.49,166.94 L203.67,166.99 L203.85,167.03 L204.03,167.08 L204.21,167.12 L204.40,167.17 L204.58,167.21 L204.76,167.26 L204.94,167.30 L205.12,167.34 L205.31,167.38 L205.49,167.43 L205.67,167.47 L205.85,167.51 L206.03,167.55 L206.22,167.59 L206.40,167.63 L206.58,167.67 L206.76,167.71 L206.94,167.75 L207.13,167.79 L207.31,167.82 L207.49,167.86 L207.67,167.90 L207.85,167.94 L208.04,167.97 L208.22,168.01 L208.40,168.04 L208.58,168.08 L208.76,168.11 L208.95,168.15 L209.13,168.18 L209.31,168.22 L209.49,168.25 L209.67,168.29 L209.86,168.32 L210.04,168.35 L210.22,168.38 L210.40,168.42 L210.58,168.45 L210.77,168.48 L210.95,168.51 L211.13,168.54 L211.31,168.57 L211.49,168.60 L211.68,168.63 L211.86,168.66 L212.04,168.69 L212.22,168.72 L212.40,168.75 L212.59,168.78 L212.77,168.81 L212.95,168.84 L213.13,168.87 L213.31,168.90 L213.50,168.92 L213.68,168.95 L213.86,168.98 L214.04,169.00 L214.22,169.03 L214.41,169.06 L214.59,169.08 L214.77,169.11 L214.95,169.14 L215.13,169.16 L215.32,169.19 L215.50,169.21 L215.68,169.24 L215.86,169.26 L216.04,169.29 L216.23,169.31 L216.41,169.34 L216.59,169.36 L216.77,169.38 L216.95,169.41 L217.14,169.43 L217.32,169.46 L217.50,169.48" fill="none" stroke="#006400" stroke-width="2.7" stroke-linejoin="bevel" stroke-linecap="butt" clip-path="url(#clipa)"/>
<path d="M34.40,383.39 L34.58,383.37 L34.76,383.35 L34.95,383.32 L35.13,383.30 L35.31,383.27 L35.49,383.25 L35.67,383.23 L35.86,383.20 L36.04,383.18 L36.22,383.15 L36.40,383.12 L36.58,383.10 L36.76,383.07 L36.95,383.05 L37.13,383.02 L37.31,382.99 L37.49,382.97 L37.67,382.94 L37.86,382.91 L38.04,382.89 L38.22,382.86 L38.40,382.83 L38.58,382.80 L38.77,382.77 L38.95,382.75 L39.13,382.72 L39.31,382.69 L39.49,382.66 L39.68,382.63 L39.86,382.60 L40.04,382.57 L40.22,382.54 L40.40,382.51 L40.58,382.48 L40.77,382.44 L40.95,382.41 L41.13,382.38 L41.31,382.35 L41.49,382.32 L41.68,382.28 L41.86,382.25 L42.04,382.22 L42.22,382.18 L42.40,382.15 L42.59,382.12 L42.77,382.08 L42.95,382.05 L43.13,382.01 L43.31,381.97 L43.49,381.94 L43.68,381.90 L43.86,381.87 L44.04,381.83 L44.22,381.79 L44.40,381.75 L44.59,381.72 L44.77,381.68 L44.95,381.64 L45.13,381.60 L45.31,381.56 L45.50,381.52 L45.68,381.48 L45.86,381.44 L46.04,381.40 L46.22,381.35 L46.41,381.31 L46.59,381.27 L46.77,381.23 L46.95,381.18 L47.13,381.14 L47.31,381.09 L47.50,381.05 L47.68,381.00 L47.86,380.96 L48.04,380.91 L48.22,380.86 L48.41,380.82 L48.59,380.77 L48.77,380.72 L48.95,380.67 L49.13,380.62 L49.32,380.57 L49.50,380.52 L49.68,380.47 L49.86,380.42 L50.04,380.37 L50.23,380.31 L50.41,380.26 L50.59,380.20 L50.77,380.15 L50.95,380.09 L51.13,380.04 L51.32,379.98 L51.50,379.92 L51.68,379.87 L51.86,379.81 L52.04,379.75 L52.23,379.69 L52.41,379.63 L52.59,379.56 L52.77,379.50 L52.95,379.44 L53.14,379.37 L53.32,379.31 L53.50,379.24 L53.68,379.18 L53.86,379.11 L54.05,379.04 L54.23,378.97 L54.41,378.90 L54.59,378.83 L54.77,378.76 L54.95,378.68 L55.14,378.61 L55.32,378.54 L55.50,378.46 L55.68,378.38 L55.86,378.30 L56.05,378.23 L56.23,378.15 L56.41,378.06 L56.59,377.98 L56.77,377.90 L56.96,377.81 L57.14,377.73 L57.32,377.64 L57.50,377.55 L57.68,377.46 L57.87,377.37 L58.05,377.28 L58.23,377.18 L58.41,377.09 L58.59,376.99 L58.77,376.89 L58.96,376.79 L59.14,376.69 L59.32,376.59 L59.50,376.48 L59.68,376.38 L59.87,376.27 L60.05,376.16 L60.23,376.05 L60.41,375.93 L60.59,375.82 L60.78,375.70 L60.96,375.58 L61.14,375.46 L61.32,375.34 L61.50,375.21 L61.69,375.09 L61.87,374.96 L62.05,374.82 L62.23,374.69 L62.41,374.55 L62.59,374.41 L62.78,374.27 L62.96,374.13 L63.14,373.98 L63.32,373.83 L63.50,373.68 L63.69,373.52 L63.87,373.36 L64.05,373.20 L64.23,373.04 L64.41,372.87 L64.60,372.70 L64.78,372.52 L64.96,372.34 L65.14,372.16 L65.32,371.97 L65.50,371.78 L65.69,371.59 L65.87,371.39 L66.05,371.19 L66.23,370.98 L66.41,370.77 L66.60,370.55 L66.78,370.33 L66.96,370.10 L67.14,369.87 L67.32,369.63 L67.51,369.39 L67.69,369.14 L67.87,368.89 L68.05,368.62 L68.23,368.36 L68.42,368.08 L68.60,367.80 L68.78,367.51 L68.96,367.21 L69.14,366.91 L69.32,366.59 L69.51,366.27 L69.69,365.94 L69.87,365.60 L70.05,365.25 L70.23,364.89 L70.42,364.51 L70.60,364.13 L70.78,363.74 L70.96,363.33 L71.14,362.91 L71.33,362.48 L71.51,362.03 L71.69,361.57 L71.87,361.09 L72.05,360.60 L72.24,360.09 L72.42,359.56 L72.60,359.01 L72.78,358.44 L72.96,357.85 L73.14,357.24 L73.33,356.60 L73.51,355.94 L73.69,355.25 L73.87,354.53 L74.05,353.78 L74.24,353.00 L74.42,352.18 L74.60,351.33 L74.78,350.44 L74.96,349.50 L75.15,348.52 L75.33,347.49 L75.51,346.40 L75.69,345.26 L75.87,344.05 L76.06,342.78 L76.24,341.43 L76.42,340.00 L76.60,338.48 L76.78,336.86 L76.96,335.14 L77.15,333.29 L77.33,331.31 L77.51,329.18 L77.69,326.89 L77.87,324.40 L78.06,321.70 L78.24,318.76 L78.42,315.52 L78.60,311.96 L78.78,308.02 L78.97,303.61 L79.15,298.65 L79.33,293.02 L79.51,286.56 L79.69,279.04 L79.88,270.15 L80.06,292.48 L80.24,311.30 L80.42,327.20 L80.60,340.63 L80.78,351.99 L80.97,361.99 L81.15,370.79 L81.33,378.11 L81.51,383.90 L81.69,388.24 L81.88,391.35 L82.06,393.92 L82.24,396.11 L82.42,397.99 L82.60,399.61 L82.79,401.02 L82.97,402.25 L83.15,403.33 L83.33,404.28 L83.51,405.13 L83.69,405.88 L83.88,406.56 L84.06,407.18 L84.24,407.75 L84.42,408.28 L84.60,408.76 L84.79,409.22 L84.97,409.63 L85.15,410.02 L85.33,410.38 L85.51,410.71 L85.70,411.02 L85.88,411.31 L86.06,411.58 L86.24,411.83 L86.42,412.06 L86.61,412.27 L86.79,412.47 L86.97,412.66 L87.15,412.83 L87.33,412.99 L87.51,413.14 L87.70,413.28 L87.88,413.41 L88.06,413.54 L88.24,413.66 L88.42,413.78 L88.61,413.90 L88.79,414.01 L88.97,414.11 L89.15,414.22 L89.33,414.31 L89.52,414.41 L89.70,414.50 L89.88,414.59 L90.06,414.67 L90.24,414.76 L90.43,414.83 L90.61,414.91 L90.79,414.98 L90.97,415.05 L91.15,415.12 L91.33,415.18 L91.52,415.24 L91.70,415.30 L91.88,415.36 L92.06,415.41 L92.24,415.46 L92.43,415.51 L92.61,415.56 L92.79,415.60 L92.97,415.64 L93.15,415.68 L93.34,415.72 L93.52,415.75 L93.70,415.79 L93.88,415.82 L94.06,415.85 L94.25,415.88 L94.43,415.90 L94.61,415.92 L94.79,415.95 L94.97,415.97 L95.15,415.98 L95.34,416.00 L95.52,416.02 L95.70,416.04 L95.88,416.05 L96.06,416.07 L96.25,416.08 L96.43,416.10 L96.61,416.11 L96.79,416.13 L96.97,416.14 L97.16,416.16 L97.34,416.17 L97.52,416.18 L97.70,416.20 L97.88,416.21 L98.06,416.22 L98.25,416.24 L98.43,416.25 L98.61,416.26 L98.79,416.27 L98.97,416.28 L99.16,416.29 L99.34,416.31 L99.52,416.32 L99.70,416.33 L99.88,416.34 L100.07,416.35 L100.25,416.36 L100.43,416.37 L100.61,416.38 L100.79,416.38 L100.98,416.39 L101.16,416.40 L101.34,416.41 L101.52,416.42 L101.70,416.43 L101.88,416.43 L102.07,416.44 L102.25,416.45 L102.43,416.46 L102.61,416.46 L102.79,416.47 L102.98,416.48 L103.16,416.48 L103.34,416.49 L103.52,416.49 L103.70,416.50 L103.89,416.51 L104.07,416.51 L104.25,416.52 L104.43,416.52 L104.61,416.53 L104.80,416.53 L104.98,416.54 L105.16,416.54 L105.34,416.55 L105.52,416.55 L105.70,416.55 L105.89,416.56 L106.07,416.56 L106.25,416.57 L106.43,416.57 L106.61,416.57 L106.80,416.58 L106.98,416.58 L107.16,416.58 L107.34,416.58 L107.52,416.59 L107.71,416.59 L107.89,416.59 L108.07,416.59 L108.25,416.60 L108.43,416.60 L108.62,416.60 L108.80,416.61 L108.98,416.61 L109.16,416.61 L109.34,416.61 L109.52,416.62 L109.71,416.62 L109.89,416.62 L110.07,416.62 L110.25,416.62 L110.43,416.63 L110.62,416.63 L110.80,416.63 L110.98,416.63 L111.16,416.64 L111.34,416.64 L111.53,416.64 L111.71,416.64 L111.89,416.65 L112.07,416.65 L112.25,416.65 L112.44,416.65 L112.62,416.65 L112.80,416.66 L112.98,416.66 L113.16,416.66 L113.34,416.66 L113.53,416.66 L113.71,416.67 L113.89,416.67 L114.07,416.67 L114.25,416.67 L114.44,416.67 L114.62,416.68 L114.80,416.68 L114.98,416.68 L115.16,416.68 L115.35,416.68 L115.53,416.68 L115.71,416.69 L115.89,416.69 L116.07,416.69 L116.25,416.69 L116.44,416.69 L116.62,416.69 L116.80,416.70 L116.98,416.70 L117.16,416.70 L117.35,416.70 L117.53,416.70 L117.71,416.70 L117.89,416.70 L118.07,416.71 L118.26,416.71 L118.44,416.71 L118.62,416.71 L118.80,416.71 L118.98,416.71 L119.17,416.71 L119.35,416.71 L119.53,416.72 L119.71,416.72 L119.89,416.72 L120.07,416.72 L120.26,416.72 L120.44,416.72 L120.62,416.72 L120.80,416.72 L120.98,416.72 L121.17,416.72 L121.35,416.72 L121.53,416.72 L121.71,416.73 L121.89,416.73 L122.08,416.73 L122.26,416.73 L122.44,416.73 L122.62,416.73 L122.80,416.73 L122.99,416.73 L123.17,416.73 L123.35,416.73 L123.53,416.73 L123.71,416.73 L123.89,416.73 L124.08,416.73 L124.26,416.73 L124.44,416.73 L124.62,416.73 L124.80,416.73 L124.99,416.73 L125.17,416.73 L125.35,416.73 L125.53,416.73 L125.71,416.73 L125.90,416.73 L126.08,416.73 L126.26,416.73 L126.44,416.73 L126.62,416.73 L126.81,416.73 L126.99,416.73 L127.17,416.73 L127.35,416.73 L127.53,416.73 L127.71,416.73 L127.90,416.73 L128.08,416.73 L128.26,416.73 L128.44,416.73 L128.62,416.73 L128.81,416.73 L128.99,416.73 L129.17,416.72 L129.35,416.72 L129.53,416.72 L129.72,416.72 L129.90,416.72 L130.08,416.72 L130.26,416.72 L130.44,416.72 L130.63,416.72 L130.81,416.72 L130.99,416.72 L131.17,416.71 L131.35,416.71 L131.53,416.71 L131.72,416.71 L131.90,416.71 L132.08,416.71 L132.26,416.71 L132.44,416.71 L132.63,416.71 L132.81,416.70 L132.99,416.70 L133.17,416.70 L133.35,416.70 L133.54,416.70 L133.72,416.70 L133.90,416.70 L134.08,416.69 L134.26,416.69 L134.45,416.69 L134.63,416.69 L134.81,416.69 L134.99,416.69 L135.17,416.68 L135.35,416.68 L135.54,416.68 L135.72,416.68 L135.90,416.68 L136.08,416.68 L136.26,416.67 L136.45,416.67 L136.63,416.67 L136.81,416.67 L136.99,416.67 L137.17,416.66 L137.36,416.66 L137.54,416.66 L137.72,416.66 L137.90,416.66 L138.08,416.65 L138.26,416.65 L138.45,416.65 L138.63,416.65 L138.81,416.64 L138.99,416.64 L139.17,416.64 L139.36,416.64 L139.54,416.64 L139.72,416.63 L139.90,416.63 L140.08,416.63 L140.27,416.63 L140.45,416.62 L140.63,416.62 L140.81,416.62 L140.99,416.62 L141.18,416.61 L141.36,416.61 L141.54,416.61 L141.72,416.61 L141.90,416.60 L142.08,416.60 L142.27,416.60 L142.45,416.60 L142.63,416.59 L142.81,416.59 L142.99,416.59 L143.18,416.59 L143.36,416.58 L143.54,416.58 L143.72,416.58 L143.90,416.57 L144.09,416.57 L144.27,416.57 L144.45,416.56 L144.63,416.56 L144.81,416.56 L145.00,416.55 L145.18,416.55 L145.36,416.54 L145.54,416.54 L145.72,416.54 L145.90,416.53 L146.09,416.53 L146.27,416.52 L146.45,416.51 L146.63,416.51 L146.81,416.50 L147.00,416.50 L147.18,416.49 L147.36,416.49 L147.54,416.48 L147.72,416.47 L147.91,416.47 L148.09,416.46 L148.27,416.45 L148.45,416.45 L148.63,416.44 L148.82,416.43 L149.00,416.42 L149.18,416.41 L149.36,416.41 L149.54,416.40 L149.72,416.39 L149.91,416.38 L150.09,416.37 L150.27,416.36 L150.45,416.35 L150.63,416.34 L150.82,416.33 L151.00,416.32 L151.18,416.31 L151.36,416.30 L151.54,416.29 L151.73,416.28 L151.91,416.27 L152.09,416.25 L152.27,416.24 L152.45,416.23 L152.64,416.22 L152.82,416.20 L153.00,416.19 L153.18,416.18 L153.36,416.16 L153.54,416.15 L153.73,416.13 L153.91,416.12 L154.09,416.10 L154.27,416.09 L154.45,416.07 L154.64,416.06 L154.82,416.04 L155.00,416.02 L155.18,416.01 L155.36,415.99 L155.55,415.97 L155.73,415.95 L155.91,415.93 L156.09,415.91 L156.27,415.88 L156.45,415.86 L156.64,415.83 L156.82,415.80 L157.00,415.76 L157.18,415.73 L157.36,415.69 L157.55,415.65 L157.73,415.61 L157.91,415.57 L158.09,415.52 L158.27,415.47 L158.46,415.42 L158.64,415.37 L158.82,415.32 L159.00,415.26 L159.18,415.20 L159.37,415.13 L159.55,415.07 L159.73,415.00 L159.91,414.93 L160.09,414.85 L160.27,414.77 L160.46,414.69 L160.64,414.61 L160.82,414.52 L161.00,414.43 L161.18,414.33 L161.37,414.24 L161.55,414.13 L161.73,414.03 L161.91,413.92 L162.09,413.80 L162.28,413.69 L162.46,413.56 L162.64,413.43 L162.82,413.30 L163.00,413.17 L163.19,413.02 L163.37,412.86 L163.55,412.69 L163.73,412.50 L163.91,412.30 L164.09,412.09 L164.28,411.86 L164.46,411.61 L164.64,411.35 L164.82,411.06 L165.00,410.75 L165.19,410.42 L165.37,410.06 L165.55,409.68 L165.73,409.26 L165.91,408.81 L166.10,408.33 L166.28,407.80 L166.46,407.24 L166.64,406.62 L166.82,405.94 L167.01,405.19 L167.19,404.35 L167.37,403.40 L167.55,402.33 L167.73,401.10 L167.91,399.70 L168.10,398.08 L168.28,396.21 L168.46,394.03 L168.64,391.47 L168.82,388.37 L169.01,384.03 L169.19,378.22 L169.37,370.86 L169.55,361.98 L169.73,351.84 L169.92,340.34 L170.10,326.71 L170.28,310.56 L170.46,291.39 L170.64,268.64 L170.83,277.89 L171.01,285.67 L171.19,292.33 L171.37,298.11 L171.55,303.19 L171.73,307.68 L171.92,311.70 L172.10,315.32 L172.28,318.60 L172.46,321.59 L172.64,324.32 L172.83,326.83 L173.01,329.15 L173.19,331.30 L173.37,333.29 L173.55,335.15 L173.74,336.89 L173.92,338.51 L174.10,340.04 L174.28,341.48 L174.46,342.83 L174.64,344.11 L174.83,345.32 L175.01,346.47 L175.19,347.56 L175.37,348.59 L175.55,349.57 L175.74,350.51 L175.92,351.41 L176.10,352.26 L176.28,353.08 L176.46,353.86 L176.65,354.61 L176.83,355.33 L177.01,356.02 L177.19,356.68 L177.37,357.32 L177.56,357.93 L177.74,358.52 L177.92,359.09 L178.10,359.64 L178.28,360.17 L178.46,360.68 L178.65,361.17 L178.83,361.65 L179.01,362.11 L179.19,362.56 L179.37,362.99 L179.56,363.41 L179.74,363.81 L179.92,364.21 L180.10,364.59 L180.28,364.96 L180.47,365.32 L180.65,365.67 L180.83,366.01 L181.01,366.34 L181.19,366.66 L181.38,366.98 L181.56,367.28 L181.74,367.58 L181.92,367.87 L182.10,368.15 L182.28,368.42 L182.47,368.69 L182.65,368.95 L182.83,369.21 L183.01,369.46 L183.19,369.70 L183.38,369.94 L183.56,370.17 L183.74,370.39 L183.92,370.62 L184.10,370.83 L184.29,371.04 L184.47,371.25 L184.65,371.45 L184.83,371.65 L185.01,371.84 L185.20,372.03 L185.38,372.22 L185.56,372.40 L185.74,372.58 L185.92,372.75 L186.10,372.93 L186.29,373.09 L186.47,373.26 L186.65,373.42 L186.83,373.58 L187.01,373.73 L187.20,373.89 L187.38,374.04 L187.56,374.18 L187.74,374.33 L187.92,374.47 L188.11,374.61 L188.29,374.74 L188.47,374.88 L188.65,375.01 L188.83,375.14 L189.02,375.26 L189.20,375.39 L189.38,375.51 L189.56,375.63 L189.74,375.75 L189.92,375.87 L190.11,375.98 L190.29,376.10 L190.47,376.21 L190.65,376.32 L190.83,376.42 L191.02,376.53 L191.20,376.64 L191.38,376.74 L191.56,376.84 L191.74,376.94 L191.93,377.04 L192.11,377.13 L192.29,377.23 L192.47,377.32 L192.65,377.41 L192.83,377.51 L193.02,377.59 L193.20,377.68 L193.38,377.77 L193.56,377.86 L193.74,377.94 L193.93,378.02 L194.11,378.11 L194.29,378.19 L194.47,378.27 L194.65,378.35 L194.84,378.42 L195.02,378.50 L195.20,378.58 L195.38,378.65 L195.56,378.72 L195.75,378.80 L195.93,378.87 L196.11,378.94 L196.29,379.01 L196.47,379.08 L196.65,379.15 L196.84,379.21 L197.02,379.28 L197.20,379.35 L197.38,379.41 L197.56,379.48 L197.75,379.54 L197.93,379.60 L198.11,379.66 L198.29,379.72 L198.47,379.78 L198.66,379.84 L198.84,379.90 L199.02,379.96 L199.20,380.02 L199.38,380.07 L199.57,380.13 L199.75,380.19 L199.93,380.24 L200.11,380.29 L200.29,380.35 L200.47,380.40 L200.66,380.45 L200.84,380.50 L201.02,380.56 L201.20,380.61 L201.38,380.66 L201.57,380.71 L201.75,380.75 L201.93,380.80 L202.11,380.85 L202.29,380.90 L202.48,380.94 L202.66,380.99 L202.84,381.04 L203.02,381.08 L203.20,381.13 L203.39,381.17 L203.57,381.21 L203.75,381.26 L203.93,381.30 L204.11,381.34 L204.29,381.39 L204.48,381.43 L204.66,381.47 L204.84,381.51 L205.02,381.55 L205.20,381.59 L205.39,381.63 L205.57,381.67 L205.75,381.71 L205.93,381.75 L206.11,381.78 L206.30,381.82 L206.48,381.86 L206.66,381.90 L206.84,381.93 L207.02,381.97 L207.21,382.00 L207.39,382.04 L207.57,382.07 L207.75,382.11 L207.93,382.14 L208.11,382.18 L208.30,382.21 L208.48,382.25 L208.66,382.28 L208.84,382.31 L209.02,382.34 L209.21,382.38 L209.39,382.41 L209.57,382.44 L209.75,382.47 L209.93,382.50 L210.12,382.53 L210.30,382.56 L210.48,382.59 L210.66,382.62 L210.84,382.65 L211.02,382.68 L211.21,382.71 L211.39,382.74 L211.57,382.77 L211.75,382.80 L211.93,382.83 L212.12,382.86 L212.30,382.88 L212.48,382.91 L212.66,382.94 L212.84,382.97 L213.03,382.99 L213.21,383.02 L213.39,383.05 L213.57,383.07 L213.75,383.10 L213.94,383.12 L214.12,383.15 L214.30,383.17 L214.48,383.20 L214.66,383.22 L214.84,383.25 L215.03,383.27 L215.21,383.30 L215.39,383.32 L215.57,383.35 L215.75,383.37 L215.94,383.39 L216.12,383.42 L216.30,383.44" fill="none" stroke="#006400" stroke-width="2.7" stroke-linejoin="bevel" stroke-linecap="butt" clip-path="url(#clipd)"/>
<path d="M265.80,140.31 L265.98,140.29 L266.16,140.27 L266.35,140.25 L266.53,140.23 L266.71,140.22 L266.89,140.20 L267.07,140.18 L267.26,140.16 L267.44,140.14 L267.62,140.12 L267.80,140.10 L267.98,140.08 L268.16,140.06 L268.35,140.04 L268.53,140.02 L268.71,139.99 L268.89,139.97 L269.07,139.95 L269.26,139.93 L269.44,139.91 L269.62,139.89 L269.80,139.86 L269.98,139.84 L270.17,139.82 L270.35,139.80 L270.53,139.77 L270.71,139.75 L270.89,139.73 L271.08,139.70 L271.26,139.68 L271.44,139.66 L271.62,139.63 L271.80,139.61 L271.98,139.58 L272.17,139.56 L272.35,139.53 L272.53,139.51 L272.71,139.48 L272.89,139.46 L273.08,139.43 L273.26,139.41 L273.44,139.38 L273.62,139.36 L273.80,139.33 L273.99,139.30 L274.17,139.28 L274.35,139.25 L274.53,139.22 L274.71,139.20 L274.89,139.17 L275.08,139.14 L275.26,139.11 L275.44,139.09 L275.62,139.06 L275.80,139.03 L275.99,139.00 L276.17,138.97 L276.35,138.94 L276.53,138.91 L276.71,138.88 L276.90,138.85 L277.08,138.82 L277.26,138.79 L277.44,138.76 L277.62,138.73 L277.81,138.70 L277.99,138.67 L278.17,138.64 L278.35,138.61 L278.53,138.57 L278.71,138.54 L278.90,138.51 L279.08,138.48 L279.26,138.44 L279.44,138.41 L279.62,138.38 L279.81,138.34 L279.99,138.31 L280.17,138.27 L280.35,138.24 L280.53,138.21 L280.72,138.17 L280.90,138.14 L281.08,138.10 L281.26,138.07 L281.44,138.03 L281.63,137.99 L281.81,137.96 L281.99,137.92 L282.17,137.88 L282.35,137.85 L282.53,137.81 L282.72,137.77 L282.90,137.73 L283.08,137.70 L283.26,137.66 L283.44,137.62 L283.63,137.58 L283.81,137.54 L283.99,137.50 L284.17,137.46 L284.35,137.42 L284.54,137.37 L284.72,137.33 L284.90,137.29 L285.08,137.25 L285.26,137.21 L285.45,137.16 L285.63,137.12 L285.81,137.07 L285.99,137.03 L286.17,136.99 L286.35,136.94 L286.54,136.90 L286.72,136.85 L286.90,136.80 L287.08,136.76 L287.26,136.71 L287.45,136.67 L287.63,136.62 L287.81,136.57 L287.99,136.52 L288.17,136.48 L288.36,136.43 L288.54,136.38 L288.72,136.33 L288.90,136.28 L289.08,136.23 L289.27,136.19 L289.45,136.14 L289.63,136.09 L289.81,136.04 L289.99,135.99 L290.17,135.94 L290.36,135.89 L290.54,135.84 L290.72,135.79 L290.90,135.74 L291.08,135.69 L291.27,135.64 L291.45,135.58 L291.63,135.53 L291.81,135.48 L291.99,135.43 L292.18,135.38 L292.36,135.33 L292.54,135.28 L292.72,135.23 L292.90,135.17 L293.09,135.12 L293.27,135.07 L293.45,135.02 L293.63,134.96 L293.81,134.91 L293.99,134.86 L294.18,134.80 L294.36,134.75 L294.54,134.70 L294.72,134.64 L294.90,134.59 L295.09,134.53 L295.27,134.48 L295.45,134.42 L295.63,134.36 L295.81,134.31 L296.00,134.25 L296.18,134.19 L296.36,134.13 L296.54,134.07 L296.72,134.02 L296.90,133.96 L297.09,133.90 L297.27,133.83 L297.45,133.77 L297.63,133.71 L297.81,133.65 L298.00,133.59 L298.18,133.52 L298.36,133.46 L298.54,133.39 L298.72,133.33 L298.91,133.26 L299.09,133.19 L299.27,133.12 L299.45,133.06 L299.63,132.99 L299.82,132.92 L300.00,132.84 L300.18,132.77 L300.36,132.70 L300.54,132.63 L300.72,132.55 L300.91,132.48 L301.09,132.40 L301.27,132.32 L301.45,132.25 L301.63,132.17 L301.82,132.09 L302.00,132.01 L302.18,131.93 L302.36,131.84 L302.54,131.76 L302.73,131.67 L302.91,131.59 L303.09,131.50 L303.27,131.41 L303.45,131.32 L303.64,131.23 L303.82,131.13 L304.00,131.04 L304.18,130.94 L304.36,130.85 L304.54,130.75 L304.73,130.65 L304.91,130.54 L305.09,130.44 L305.27,130.34 L305.45,130.23 L305.64,130.12 L305.82,130.01 L306.00,129.90 L306.18,129.78 L306.36,129.67 L306.55,129.55 L306.73,129.43 L306.91,129.30 L307.09,129.17 L307.27,129.04 L307.46,128.91 L307.64,128.78 L307.82,128.64 L308.00,128.50 L308.18,128.35 L308.36,128.21 L308.55,128.06 L308.73,127.91 L308.91,127.75 L309.09,127.59 L309.27,127.43 L309.46,127.27 L309.64,127.10 L309.82,126.93 L310.00,126.76 L310.18,126.59 L310.37,126.41 L310.55,126.23 L310.73,126.04 L310.91,125.85 L311.09,125.66 L311.27,125.47 L311.46,125.27 L311.64,125.07 L311.82,124.86 L312.00,124.64 L312.18,124.42 L312.37,124.19 L312.55,123.96 L312.73,123.71 L312.91,123.46 L313.09,123.21 L313.28,122.95 L313.46,122.68 L313.64,122.40 L313.82,122.12 L314.00,121.83 L314.19,121.54 L314.37,121.23 L314.55,120.92 L314.73,120.61 L314.91,120.29 L315.09,119.96 L315.28,119.61 L315.46,119.26 L315.64,118.90 L315.82,118.52 L316.00,118.13 L316.19,117.73 L316.37,117.31 L316.55,116.88 L316.73,116.43 L316.91,115.97 L317.10,115.49 L317.28,115.00 L317.46,114.48 L317.64,113.95 L317.82,113.37 L318.01,112.74 L318.19,112.06 L318.37,111.34 L318.55,110.58 L318.73,109.79 L318.91,108.97 L319.10,108.09 L319.28,107.13 L319.46,106.05 L319.64,104.84 L319.82,103.38 L320.01,101.51 L320.19,99.41 L320.37,97.23 L320.55,94.93 L320.73,92.44 L320.92,89.94 L321.10,87.59 L321.28,85.39 L321.46,83.22 L321.64,81.01 L321.83,78.59 L322.01,75.51 L322.19,72.65 L322.37,71.09 L322.42,71.03 L322.55,71.59 L322.73,73.75 L322.92,76.61 L323.10,79.18 L323.28,81.27 L323.46,83.33 L323.64,85.37 L323.83,87.38 L324.01,89.40 L324.19,91.39 L324.37,93.34 L324.55,95.26 L324.74,97.14 L324.92,98.98 L325.10,100.79 L325.28,102.57 L325.46,104.31 L325.65,106.02 L325.83,107.70 L326.01,109.34 L326.19,110.95 L326.37,112.53 L326.55,114.07 L326.74,115.58 L326.92,117.07 L327.10,118.52 L327.28,119.94 L327.46,121.33 L327.65,122.69 L327.83,124.03 L328.01,125.33 L328.19,126.62 L328.37,127.87 L328.56,129.11 L328.74,130.31 L328.92,131.50 L329.10,132.66 L329.28,133.81 L329.47,134.94 L329.65,136.04 L329.83,137.13 L330.01,138.21 L330.19,139.27 L330.37,140.31 L330.56,141.35 L330.74,142.37 L330.92,143.38 L331.10,144.38 L331.28,145.36 L331.47,146.35 L331.65,147.32 L331.83,148.28 L332.01,149.23 L332.19,150.18 L332.38,151.12 L332.56,152.05 L332.74,152.97 L332.92,153.89 L333.10,154.79 L333.28,155.69 L333.47,156.58 L333.65,157.46 L333.83,158.33 L334.01,159.19 L334.19,160.04 L334.38,160.88 L334.56,161.71 L334.74,162.53 L334.92,163.34 L335.10,164.13 L335.29,164.92 L335.47,165.69 L335.65,166.45 L335.83,167.19 L336.01,167.92 L336.20,168.65 L336.38,169.35 L336.56,170.05 L336.74,170.74 L336.92,171.41 L337.10,172.07 L337.29,172.72 L337.47,173.36 L337.65,173.99 L337.83,174.61 L338.01,175.22 L338.20,175.82 L338.38,176.41 L338.56,176.99 L338.74,177.57 L338.92,178.14 L339.11,178.70 L339.29,179.25 L339.47,179.80 L339.65,180.35 L339.83,180.88 L340.02,181.42 L340.20,181.95 L340.38,182.48 L340.56,183.02 L340.74,183.56 L340.92,184.10 L341.11,184.63 L341.29,185.14 L341.47,185.62 L341.65,186.09 L341.83,186.54 L342.02,186.99 L342.20,187.44 L342.38,187.87 L342.56,188.30 L342.74,188.73 L342.93,189.14 L343.11,189.55 L343.29,189.95 L343.47,190.34 L343.65,190.73 L343.84,191.11 L344.02,191.49 L344.20,191.85 L344.38,192.21 L344.56,192.57 L344.74,192.92 L344.93,193.28 L345.11,193.64 L345.29,193.99 L345.47,194.34 L345.65,194.69 L345.84,195.02 L346.02,195.34 L346.20,195.65 L346.38,195.94 L346.56,196.22 L346.75,196.47 L346.93,196.70 L347.11,196.91 L347.29,197.10 L347.47,197.28 L347.65,197.44 L347.84,197.60 L348.02,197.75 L348.20,197.90 L348.38,198.03 L348.56,198.16 L348.75,198.27 L348.93,198.38 L349.11,198.49 L349.29,198.58 L349.47,198.67 L349.66,198.76 L349.84,198.84 L350.02,198.91 L350.20,198.98 L350.38,199.03 L350.57,199.08 L350.75,199.13 L350.93,199.18 L351.11,199.22 L351.29,199.27 L351.47,199.30 L351.66,199.34 L351.84,199.36 L352.02,199.38 L352.20,199.40 L352.38,199.41 L352.57,199.41 L352.75,199.42 L352.93,199.43 L353.11,199.44 L353.29,199.45 L353.48,199.45 L353.66,199.46 L353.84,199.47 L354.02,199.47 L354.20,199.48 L354.39,199.48 L354.57,199.49 L354.75,199.49 L354.93,199.50 L355.11,199.50 L355.29,199.50 L355.48,199.51 L355.66,199.51 L355.84,199.51 L356.02,199.51 L356.20,199.52 L356.39,199.52 L356.57,199.52 L356.75,199.52 L356.93,199.52 L357.11,199.52 L357.30,199.52 L357.48,199.51 L357.66,199.51 L357.84,199.51 L358.02,199.51 L358.21,199.50 L358.39,199.50 L358.57,199.50 L358.75,199.49 L358.93,199.49 L359.11,199.48 L359.30,199.48 L359.48,199.47 L359.66,199.47 L359.84,199.46 L360.02,199.45 L360.21,199.45 L360.39,199.44 L360.57,199.43 L360.75,199.42 L360.93,199.41 L361.12,199.41 L361.30,199.40 L361.48,199.38 L361.66,199.36 L361.84,199.34 L362.03,199.30 L362.21,199.27 L362.39,199.22 L362.57,199.18 L362.75,199.13 L362.93,199.08 L363.12,199.03 L363.30,198.98 L363.48,198.91 L363.66,198.84 L363.84,198.76 L364.03,198.67 L364.21,198.58 L364.39,198.49 L364.57,198.38 L364.75,198.27 L364.94,198.16 L365.12,198.03 L365.30,197.90 L365.48,197.75 L365.66,197.60 L365.85,197.44 L366.03,197.28 L366.21,197.10 L366.39,196.91 L366.57,196.70 L366.75,196.47 L366.94,196.22 L367.12,195.94 L367.30,195.65 L367.48,195.34 L367.66,195.02 L367.85,194.69 L368.03,194.34 L368.21,193.99 L368.39,193.64 L368.57,193.28 L368.76,192.92 L368.94,192.57 L369.12,192.21 L369.30,191.85 L369.48,191.49 L369.66,191.11 L369.85,190.73 L370.03,190.34 L370.21,189.95 L370.39,189.55 L370.57,189.14 L370.76,188.73 L370.94,188.30 L371.12,187.87 L371.30,187.44 L371.48,186.99 L371.67,186.54 L371.85,186.09 L372.03,185.62 L372.21,185.14 L372.39,184.63 L372.58,184.10 L372.76,183.56 L372.94,183.02 L373.12,182.48 L373.30,181.95 L373.48,181.42 L373.67,180.88 L373.85,180.35 L374.03,179.80 L374.21,179.25 L374.39,178.70 L374.58,178.14 L374.76,177.57 L374.94,176.99 L375.12,176.41 L375.30,175.82 L375.49,175.22 L375.67,174.61 L375.85,173.99 L376.03,173.36 L376.21,172.72 L376.40,172.07 L376.58,171.41 L376.76,170.74 L376.94,170.05 L377.12,169.35 L377.30,168.65 L377.49,167.92 L377.67,167.19 L377.85,166.45 L378.03,165.69 L378.21,164.92 L378.40,164.13 L378.58,163.34 L378.76,162.53 L378.94,161.71 L379.12,160.88 L379.31,160.04 L379.49,159.19 L379.67,158.33 L379.85,157.46 L380.03,156.58 L380.22,155.69 L380.40,154.79 L380.58,153.89 L380.76,152.97 L380.94,152.05 L381.12,151.12 L381.31,150.18 L381.49,149.23 L381.67,148.28 L381.85,147.32 L382.03,146.35 L382.22,145.37 L382.40,144.38 L382.58,143.38 L382.76,142.37 L382.94,141.35 L383.13,140.31 L383.31,139.27 L383.49,138.21 L383.67,137.14 L383.85,136.05 L384.03,134.94 L384.22,133.81 L384.40,132.67 L384.58,131.50 L384.76,130.32 L384.94,129.11 L385.13,127.88 L385.31,126.62 L385.49,125.34 L385.67,124.03 L385.85,122.70 L386.04,121.33 L386.22,119.94 L386.40,118.52 L386.58,117.07 L386.76,115.59 L386.95,114.08 L387.13,112.53 L387.31,110.96 L387.49,109.35 L387.67,107.71 L387.85,106.03 L388.04,104.33 L388.22,102.58 L388.40,100.81 L388.58,99.00 L388.76,97.15 L388.95,95.27 L389.13,93.36 L389.31,91.41 L389.49,89.42 L389.67,87.40 L389.86,85.34 L390.04,83.25 L390.22,81.12 L390.40,78.97 L390.58,76.33 L390.77,73.41 L390.95,71.19 L391.08,70.58 L391.13,70.66 L391.31,72.29 L391.49,75.21 L391.67,78.36 L391.86,80.85 L392.04,83.12 L392.22,85.37 L392.40,87.64 L392.58,90.01 L392.77,92.51 L392.95,95.00 L393.13,97.31 L393.31,99.49 L393.49,101.60 L393.68,103.47 L393.86,104.94 L394.04,106.15 L394.22,107.23 L394.40,108.20 L394.59,109.09 L394.77,109.92 L394.95,110.71 L395.13,111.48 L395.31,112.21 L395.49,112.89 L395.68,113.53 L395.86,114.12 L396.04,114.66 L396.22,115.18 L396.40,115.69 L396.59,116.18 L396.77,116.65 L396.95,117.10 L397.13,117.55 L397.31,117.97 L397.50,118.39 L397.68,118.79 L397.86,119.18 L398.04,119.55 L398.22,119.92 L398.41,120.27 L398.59,120.61 L398.77,120.95 L398.95,121.27 L399.13,121.60 L399.31,121.91 L399.50,122.22 L399.68,122.52 L399.86,122.82 L400.04,123.11 L400.22,123.39 L400.41,123.67 L400.59,123.94 L400.77,124.20 L400.95,124.46 L401.13,124.71 L401.32,124.96 L401.50,125.19 L401.68,125.42 L401.86,125.65 L402.04,125.87 L402.23,126.08 L402.41,126.29 L402.59,126.49 L402.77,126.70 L402.95,126.90 L403.13,127.09 L403.32,127.29 L403.50,127.48 L403.68,127.66 L403.86,127.85 L404.04,128.03 L404.23,128.20 L404.41,128.38 L404.59,128.55 L404.77,128.72 L404.95,128.88 L405.14,129.04 L405.32,129.20 L405.50,129.35 L405.68,129.51 L405.86,129.65 L406.04,129.80 L406.23,129.94 L406.41,130.08 L406.59,130.22 L406.77,130.35 L406.95,130.48 L407.14,130.60 L407.32,130.72 L407.50,130.84 L407.68,130.96 L407.86,131.08 L408.05,131.19 L408.23,131.30 L408.41,131.41 L408.59,131.51 L408.77,131.62 L408.96,131.72 L409.14,131.82 L409.32,131.91 L409.50,132.01 L409.68,132.10 L409.86,132.19 L410.05,132.28 L410.23,132.37 L410.41,132.45 L410.59,132.53 L410.77,132.61 L410.96,132.69 L411.14,132.77 L411.32,132.85 L411.50,132.92 L411.68,132.99 L411.87,133.06 L412.05,133.13 L412.23,133.20 L412.41,133.27 L412.59,133.33 L412.78,133.40 L412.96,133.46 L413.14,133.52 L413.32,133.58 L413.50,133.64 L413.68,133.70 L413.87,133.76 L414.05,133.81 L414.23,133.87 L414.41,133.92 L414.59,133.97 L414.78,134.03 L414.96,134.08 L415.14,134.13 L415.32,134.18 L415.50,134.23 L415.69,134.27 L415.87,134.32 L416.05,134.37 L416.23,134.41 L416.41,134.46 L416.60,134.51 L416.78,134.55 L416.96,134.59 L417.14,134.64 L417.32,134.68 L417.50,134.72 L417.69,134.77 L417.87,134.81 L418.05,134.85 L418.23,134.89 L418.41,134.94 L418.60,134.98 L418.78,135.02 L418.96,135.06 L419.14,135.10 L419.32,135.14 L419.51,135.18 L419.69,135.22 L419.87,135.26 L420.05,135.31 L420.23,135.35 L420.41,135.39 L420.60,135.42 L420.78,135.46 L420.96,135.49 L421.14,135.53 L421.32,135.57 L421.51,135.60 L421.69,135.64 L421.87,135.68 L422.05,135.71 L422.23,135.75 L422.42,135.79 L422.60,135.82 L422.78,135.86 L422.96,135.90 L423.14,135.94 L423.33,135.97 L423.51,136.01 L423.69,136.05 L423.87,136.09 L424.05,136.13 L424.23,136.16 L424.42,136.20 L424.60,136.24 L424.78,136.28 L424.96,136.32 L425.14,136.35 L425.33,136.39 L425.51,136.43 L425.69,136.47 L425.87,136.51 L426.05,136.54 L426.24,136.58 L426.42,136.62 L426.60,136.66 L426.78,136.69 L426.96,136.73 L427.15,136.77 L427.33,136.80 L427.51,136.84 L427.69,136.88 L427.87,136.91 L428.05,136.95 L428.24,136.99 L428.42,137.02 L428.60,137.06 L428.78,137.09 L428.96,137.13 L429.15,137.16 L429.33,137.20 L429.51,137.23 L429.69,137.26 L429.87,137.30 L430.06,137.33 L430.24,137.36 L430.42,137.39 L430.60,137.43 L430.78,137.46 L430.97,137.49 L431.15,137.52 L431.33,137.55 L431.51,137.58 L431.69,137.61 L431.87,137.64 L432.06,137.67 L432.24,137.70 L432.42,137.73 L432.60,137.76 L432.78,137.79 L432.97,137.82 L433.15,137.85 L433.33,137.88 L433.51,137.90 L433.69,137.93 L433.88,137.96 L434.06,137.99 L434.24,138.01 L434.42,138.04 L434.60,138.07 L434.79,138.10 L434.97,138.12 L435.15,138.15 L435.33,138.17 L435.51,138.20 L435.69,138.23 L435.88,138.25 L436.06,138.28 L436.24,138.30 L436.42,138.33 L436.60,138.35 L436.79,138.37 L436.97,138.40 L437.15,138.42 L437.33,138.44 L437.51,138.47 L437.70,138.49 L437.88,138.51 L438.06,138.54 L438.24,138.56 L438.42,138.58 L438.61,138.60 L438.79,138.62 L438.97,138.65 L439.15,138.67 L439.33,138.69 L439.51,138.71 L439.70,138.73 L439.88,138.75 L440.06,138.77 L440.24,138.79 L440.42,138.81 L440.61,138.83 L440.79,138.85 L440.97,138.87 L441.15,138.89 L441.33,138.91 L441.52,138.93 L441.70,138.94 L441.88,138.96 L442.06,138.98 L442.24,139.00 L442.42,139.02 L442.61,139.04 L442.79,139.05 L442.97,139.07 L443.15,139.09 L443.33,139.11 L443.52,139.12 L443.70,139.14 L443.88,139.16 L444.06,139.17 L444.24,139.19 L444.43,139.20 L444.61,139.22 L444.79,139.24 L444.97,139.25 L445.15,139.27 L445.34,139.28 L445.52,139.30 L445.70,139.31 L445.88,139.33 L446.06,139.34 L446.24,139.35 L446.43,139.37 L446.61,139.38 L446.79,139.39 L446.97,139.41 L447.15,139.42 L447.34,139.43 L447.52,139.45 L447.70,139.46" fill="none" stroke="#006400" stroke-width="2.7" stroke-linejoin="bevel" stroke-linecap="butt" clip-path="url(#clipb)"/>
<path d="M265.80,354.67 L265.98,354.66 L266.16,354.65 L266.35,354.63 L266.53,354.62 L266.71,354.60 L266.89,354.59 L267.07,354.57 L267.26,354.56 L267.44,354.54 L267.62,354.52 L267.80,354.51 L267.98,354.49 L268.16,354.48 L268.35,354.46 L268.53,354.44 L268.71,354.42 L268.89,354.41 L269.07,354.39 L269.26,354.37 L269.44,354.35 L269.62,354.34 L269.80,354.32 L269.98,354.30 L270.17,354.28 L270.35,354.26 L270.53,354.24 L270.71,354.23 L270.89,354.21 L271.08,354.19 L271.26,354.17 L271.44,354.15 L271.62,354.13 L271.80,354.11 L271.98,354.09 L272.17,354.07 L272.35,354.05 L272.53,354.03 L272.71,354.01 L272.89,353.99 L273.08,353.97 L273.26,353.95 L273.44,353.92 L273.62,353.90 L273.80,353.88 L273.99,353.86 L274.17,353.84 L274.35,353.82 L274.53,353.79 L274.71,353.77 L274.89,353.75 L275.08,353.73 L275.26,353.70 L275.44,353.68 L275.62,353.66 L275.80,353.63 L275.99,353.61 L276.17,353.58 L276.35,353.56 L276.53,353.53 L276.71,353.51 L276.90,353.48 L277.08,353.46 L277.26,353.43 L277.44,353.41 L277.62,353.38 L277.81,353.36 L277.99,353.33 L278.17,353.30 L278.35,353.28 L278.53,353.25 L278.71,353.22 L278.90,353.19 L279.08,353.17 L279.26,353.14 L279.44,353.11 L279.62,353.08 L279.81,353.05 L279.99,353.03 L280.17,353.00 L280.35,352.97 L280.53,352.94 L280.72,352.91 L280.90,352.88 L281.08,352.85 L281.26,352.82 L281.44,352.79 L281.63,352.76 L281.81,352.73 L281.99,352.70 L282.17,352.67 L282.35,352.64 L282.53,352.61 L282.72,352.58 L282.90,352.54 L283.08,352.51 L283.26,352.48 L283.44,352.45 L283.63,352.41 L283.81,352.38 L283.99,352.35 L284.17,352.31 L284.35,352.28 L284.54,352.24 L284.72,352.21 L284.90,352.17 L285.08,352.14 L285.26,352.10 L285.45,352.07 L285.63,352.03 L285.81,352.00 L285.99,351.96 L286.17,351.92 L286.35,351.88 L286.54,351.85 L286.72,351.81 L286.90,351.77 L287.08,351.73 L287.26,351.69 L287.45,351.66 L287.63,351.62 L287.81,351.58 L287.99,351.54 L288.17,351.50 L288.36,351.46 L288.54,351.42 L288.72,351.38 L288.90,351.34 L289.08,351.30 L289.27,351.26 L289.45,351.22 L289.63,351.18 L289.81,351.13 L289.99,351.09 L290.17,351.05 L290.36,351.01 L290.54,350.97 L290.72,350.93 L290.90,350.88 L291.08,350.84 L291.27,350.80 L291.45,350.76 L291.63,350.71 L291.81,350.67 L291.99,350.63 L292.18,350.58 L292.36,350.54 L292.54,350.50 L292.72,350.45 L292.90,350.41 L293.09,350.37 L293.27,350.32 L293.45,350.28 L293.63,350.23 L293.81,350.19 L293.99,350.14 L294.18,350.10 L294.36,350.05 L294.54,350.01 L294.72,349.96 L294.90,349.91 L295.09,349.87 L295.27,349.82 L295.45,349.77 L295.63,349.73 L295.81,349.68 L296.00,349.63 L296.18,349.58 L296.36,349.53 L296.54,349.48 L296.72,349.43 L296.90,349.38 L297.09,349.33 L297.27,349.28 L297.45,349.23 L297.63,349.17 L297.81,349.12 L298.00,349.07 L298.18,349.01 L298.36,348.96 L298.54,348.90 L298.72,348.85 L298.91,348.79 L299.09,348.73 L299.27,348.67 L299.45,348.62 L299.63,348.56 L299.82,348.50 L300.00,348.44 L300.18,348.37 L300.36,348.31 L300.54,348.25 L300.72,348.19 L300.91,348.12 L301.09,348.06 L301.27,347.99 L301.45,347.93 L301.63,347.86 L301.82,347.79 L302.00,347.72 L302.18,347.65 L302.36,347.58 L302.54,347.51 L302.73,347.43 L302.91,347.36 L303.09,347.29 L303.27,347.21 L303.45,347.13 L303.64,347.05 L303.82,346.97 L304.00,346.89 L304.18,346.81 L304.36,346.72 L304.54,346.64 L304.73,346.55 L304.91,346.46 L305.09,346.38 L305.27,346.28 L305.45,346.19 L305.64,346.10 L305.82,346.00 L306.00,345.91 L306.18,345.81 L306.36,345.71 L306.55,345.60 L306.73,345.50 L306.91,345.39 L307.09,345.27 L307.27,345.16 L307.46,345.04 L307.64,344.92 L307.82,344.80 L308.00,344.68 L308.18,344.55 L308.36,344.42 L308.55,344.29 L308.73,344.15 L308.91,344.02 L309.09,343.88 L309.27,343.74 L309.46,343.59 L309.64,343.44 L309.82,343.30 L310.00,343.14 L310.18,342.99 L310.37,342.83 L310.55,342.68 L310.73,342.52 L310.91,342.35 L311.09,342.19 L311.27,342.02 L311.46,341.85 L311.64,341.68 L311.82,341.50 L312.00,341.33 L312.18,341.14 L312.37,340.96 L312.55,340.77 L312.73,340.57 L312.91,340.37 L313.09,340.17 L313.28,339.96 L313.46,339.74 L313.64,339.52 L313.82,339.29 L314.00,339.06 L314.19,338.82 L314.37,338.58 L314.55,338.33 L314.73,338.07 L314.91,337.80 L315.09,337.53 L315.28,337.25 L315.46,336.96 L315.64,336.66 L315.82,336.34 L316.00,336.01 L316.19,335.66 L316.37,335.30 L316.55,334.93 L316.73,334.53 L316.91,334.13 L317.10,333.71 L317.28,333.28 L317.46,332.83 L317.64,332.37 L317.82,331.90 L318.01,331.42 L318.19,330.92 L318.37,330.41 L318.55,329.87 L318.73,329.29 L318.91,328.67 L319.10,328.00 L319.28,327.26 L319.46,326.45 L319.64,325.50 L319.82,324.36 L320.01,323.06 L320.19,321.60 L320.37,319.80 L320.55,317.65 L320.73,315.49 L320.92,313.56 L321.10,311.52 L321.28,309.43 L321.46,307.34 L321.64,305.36 L321.83,303.61 L322.01,302.19 L322.19,301.23 L322.37,300.83 L322.42,300.83 L322.55,301.21 L322.73,302.73 L322.92,304.78 L323.10,306.61 L323.28,308.10 L323.46,309.57 L323.64,311.02 L323.83,312.48 L324.01,313.98 L324.19,315.46 L324.37,316.91 L324.55,318.35 L324.74,319.76 L324.92,321.15 L325.10,322.52 L325.28,323.87 L325.46,325.20 L325.65,326.50 L325.83,327.79 L326.01,329.06 L326.19,330.31 L326.37,331.54 L326.55,332.75 L326.74,333.95 L326.92,335.12 L327.10,336.28 L327.28,337.42 L327.46,338.54 L327.65,339.64 L327.83,340.73 L328.01,341.80 L328.19,342.85 L328.37,343.89 L328.56,344.91 L328.74,345.91 L328.92,346.90 L329.10,347.87 L329.28,348.83 L329.47,349.77 L329.65,350.70 L329.83,351.62 L330.01,352.52 L330.19,353.40 L330.37,354.27 L330.56,355.13 L330.74,355.97 L330.92,356.80 L331.10,357.62 L331.28,358.43 L331.47,359.22 L331.65,360.00 L331.83,360.76 L332.01,361.52 L332.19,362.26 L332.38,362.99 L332.56,363.71 L332.74,364.42 L332.92,365.12 L333.10,365.81 L333.28,366.48 L333.47,367.15 L333.65,367.80 L333.83,368.45 L334.01,369.08 L334.19,369.71 L334.38,370.33 L334.56,370.93 L334.74,371.53 L334.92,372.12 L335.10,372.70 L335.29,373.27 L335.47,373.83 L335.65,374.38 L335.83,374.92 L336.01,375.46 L336.20,375.99 L336.38,376.51 L336.56,377.02 L336.74,377.53 L336.92,378.03 L337.10,378.52 L337.29,379.00 L337.47,379.48 L337.65,379.95 L337.83,380.41 L338.01,380.87 L338.20,381.32 L338.38,381.77 L338.56,382.21 L338.74,382.64 L338.92,383.07 L339.11,383.49 L339.29,383.90 L339.47,384.31 L339.65,384.72 L339.83,385.12 L340.02,385.51 L340.20,385.90 L340.38,386.29 L340.56,386.67 L340.74,387.04 L340.92,387.42 L341.11,387.78 L341.29,388.15 L341.47,388.51 L341.65,388.86 L341.83,389.21 L342.02,389.56 L342.20,389.90 L342.38,390.24 L342.56,390.58 L342.74,390.91 L342.93,391.24 L343.11,391.57 L343.29,391.90 L343.47,392.22 L343.65,392.55 L343.84,392.87 L344.02,393.19 L344.20,393.51 L344.38,393.82 L344.56,394.14 L344.74,394.45 L344.93,394.75 L345.11,395.06 L345.29,395.36 L345.47,395.66 L345.65,395.96 L345.84,396.26 L346.02,396.55 L346.20,396.84 L346.38,397.13 L346.56,397.42 L346.75,397.71 L346.93,398.00 L347.11,398.28 L347.29,398.56 L347.47,398.85 L347.65,399.13 L347.84,399.41 L348.02,399.68 L348.20,399.96 L348.38,400.24 L348.56,400.51 L348.75,400.78 L348.93,401.06 L349.11,401.33 L349.29,401.60 L349.47,401.87 L349.66,402.14 L349.84,402.40 L350.02,402.67 L350.20,402.94 L350.38,403.20 L350.57,403.47 L350.75,403.73 L350.93,404.00 L351.11,404.26 L351.29,404.52 L351.47,404.79 L351.66,405.05 L351.84,405.31 L352.02,405.57 L352.20,405.83 L352.38,406.09 L352.57,406.34 L352.75,406.60 L352.93,406.86 L353.11,407.11 L353.29,407.37 L353.48,407.62 L353.66,407.87 L353.84,408.13 L354.02,408.38 L354.20,408.63 L354.39,408.87 L354.57,409.12 L354.75,409.36 L354.93,409.59 L355.11,409.83 L355.29,410.05 L355.48,410.27 L355.66,410.48 L355.84,410.68 L356.02,410.86 L356.20,411.01 L356.39,411.13 L356.57,411.21 L356.75,411.24 L356.93,411.21 L357.11,411.13 L357.30,411.01 L357.48,410.86 L357.66,410.68 L357.84,410.48 L358.02,410.27 L358.21,410.05 L358.39,409.83 L358.57,409.59 L358.75,409.36 L358.93,409.12 L359.11,408.87 L359.30,408.63 L359.48,408.38 L359.66,408.13 L359.84,407.87 L360.02,407.62 L360.21,407.37 L360.39,407.11 L360.57,406.86 L360.75,406.60 L360.93,406.34 L361.12,406.09 L361.30,405.83 L361.48,405.57 L361.66,405.31 L361.84,405.05 L362.03,404.79 L362.21,404.52 L362.39,404.26 L362.57,404.00 L362.75,403.73 L362.93,403.47 L363.12,403.20 L363.30,402.94 L363.48,402.67 L363.66,402.40 L363.84,402.14 L364.03,401.87 L364.21,401.60 L364.39,401.33 L364.57,401.06 L364.75,400.78 L364.94,400.51 L365.12,400.24 L365.30,399.96 L365.48,399.68 L365.66,399.41 L365.85,399.13 L366.03,398.85 L366.21,398.56 L366.39,398.28 L366.57,398.00 L366.75,397.71 L366.94,397.42 L367.12,397.13 L367.30,396.84 L367.48,396.55 L367.66,396.26 L367.85,395.96 L368.03,395.66 L368.21,395.36 L368.39,395.06 L368.57,394.75 L368.76,394.45 L368.94,394.14 L369.12,393.82 L369.30,393.51 L369.48,393.19 L369.66,392.87 L369.85,392.55 L370.03,392.22 L370.21,391.90 L370.39,391.57 L370.57,391.24 L370.76,390.91 L370.94,390.58 L371.12,390.24 L371.30,389.90 L371.48,389.56 L371.67,389.21 L371.85,388.86 L372.03,388.51 L372.21,388.15 L372.39,387.78 L372.58,387.42 L372.76,387.04 L372.94,386.67 L373.12,386.29 L373.30,385.90 L373.48,385.51 L373.67,385.12 L373.85,384.72 L374.03,384.31 L374.21,383.90 L374.39,383.49 L374.58,383.07 L374.76,382.64 L374.94,382.21 L375.12,381.77 L375.30,381.32 L375.49,380.87 L375.67,380.41 L375.85,379.95 L376.03,379.48 L376.21,379.00 L376.40,378.52 L376.58,378.03 L376.76,377.53 L376.94,377.02 L377.12,376.51 L377.30,375.99 L377.49,375.46 L377.67,374.92 L377.85,374.38 L378.03,373.83 L378.21,373.27 L378.40,372.70 L378.58,372.12 L378.76,371.53 L378.94,370.93 L379.12,370.33 L379.31,369.71 L379.49,369.08 L379.67,368.45 L379.85,367.80 L380.03,367.15 L380.22,366.48 L380.40,365.81 L380.58,365.12 L380.76,364.42 L380.94,363.71 L381.12,362.99 L381.31,362.26 L381.49,361.52 L381.67,360.76 L381.85,360.00 L382.03,359.22 L382.22,358.43 L382.40,357.62 L382.58,356.80 L382.76,355.97 L382.94,355.13 L383.13,354.27 L383.31,353.40 L383.49,352.52 L383.67,351.62 L383.85,350.70 L384.03,349.78 L384.22,348.83 L384.40,347.88 L384.58,346.90 L384.76,345.91 L384.94,344.91 L385.13,343.89 L385.31,342.85 L385.49,341.80 L385.67,340.73 L385.85,339.65 L386.04,338.54 L386.22,337.42 L386.40,336.28 L386.58,335.13 L386.76,333.95 L386.95,332.76 L387.13,331.55 L387.31,330.32 L387.49,329.07 L387.67,327.80 L387.85,326.52 L388.04,325.21 L388.22,323.88 L388.40,322.53 L388.58,321.16 L388.76,319.77 L388.95,318.36 L389.13,316.93 L389.31,315.48 L389.49,314.00 L389.67,312.50 L389.86,310.98 L390.04,309.43 L390.22,307.86 L390.40,306.28 L390.58,304.35 L390.77,302.21 L390.95,300.59 L391.08,300.14 L391.13,300.16 L391.31,300.66 L391.49,301.72 L391.67,303.24 L391.86,305.10 L392.04,307.18 L392.22,309.37 L392.40,311.55 L392.58,313.63 L392.77,315.56 L392.95,317.72 L393.13,319.88 L393.31,321.69 L393.49,323.15 L393.68,324.46 L393.86,325.60 L394.04,326.55 L394.22,327.37 L394.40,328.11 L394.59,328.79 L394.77,329.42 L394.95,330.00 L395.13,330.55 L395.31,331.07 L395.49,331.57 L395.68,332.06 L395.86,332.54 L396.04,333.01 L396.22,333.47 L396.40,333.91 L396.59,334.34 L396.77,334.75 L396.95,335.15 L397.13,335.54 L397.31,335.91 L397.50,336.27 L397.68,336.61 L397.86,336.94 L398.04,337.25 L398.22,337.55 L398.41,337.84 L398.59,338.13 L398.77,338.41 L398.95,338.68 L399.13,338.94 L399.31,339.20 L399.50,339.45 L399.68,339.70 L399.86,339.94 L400.04,340.17 L400.22,340.40 L400.41,340.62 L400.59,340.84 L400.77,341.06 L400.95,341.27 L401.13,341.47 L401.32,341.68 L401.50,341.87 L401.68,342.07 L401.86,342.26 L402.04,342.45 L402.23,342.63 L402.41,342.81 L402.59,342.99 L402.77,343.17 L402.95,343.35 L403.13,343.52 L403.32,343.69 L403.50,343.86 L403.68,344.02 L403.86,344.19 L404.04,344.35 L404.23,344.50 L404.41,344.66 L404.59,344.81 L404.77,344.96 L404.95,345.11 L405.14,345.25 L405.32,345.39 L405.50,345.53 L405.68,345.67 L405.86,345.80 L406.04,345.93 L406.23,346.05 L406.41,346.18 L406.59,346.30 L406.77,346.42 L406.95,346.53 L407.14,346.64 L407.32,346.75 L407.50,346.85 L407.68,346.95 L407.86,347.05 L408.05,347.15 L408.23,347.25 L408.41,347.34 L408.59,347.43 L408.77,347.52 L408.96,347.61 L409.14,347.69 L409.32,347.78 L409.50,347.86 L409.68,347.94 L409.86,348.01 L410.05,348.09 L410.23,348.16 L410.41,348.24 L410.59,348.31 L410.77,348.38 L410.96,348.44 L411.14,348.51 L411.32,348.57 L411.50,348.63 L411.68,348.69 L411.87,348.75 L412.05,348.81 L412.23,348.87 L412.41,348.92 L412.59,348.98 L412.78,349.03 L412.96,349.08 L413.14,349.13 L413.32,349.18 L413.50,349.23 L413.68,349.28 L413.87,349.32 L414.05,349.37 L414.23,349.41 L414.41,349.46 L414.59,349.50 L414.78,349.54 L414.96,349.58 L415.14,349.63 L415.32,349.67 L415.50,349.70 L415.69,349.74 L415.87,349.78 L416.05,349.82 L416.23,349.86 L416.41,349.89 L416.60,349.93 L416.78,349.96 L416.96,350.00 L417.14,350.03 L417.32,350.07 L417.50,350.10 L417.69,350.14 L417.87,350.17 L418.05,350.20 L418.23,350.24 L418.41,350.27 L418.60,350.30 L418.78,350.34 L418.96,350.37 L419.14,350.40 L419.32,350.44 L419.51,350.47 L419.69,350.50 L419.87,350.53 L420.05,350.57 L420.23,350.60 L420.41,350.63 L420.60,350.66 L420.78,350.69 L420.96,350.72 L421.14,350.75 L421.32,350.77 L421.51,350.80 L421.69,350.83 L421.87,350.86 L422.05,350.89 L422.23,350.92 L422.42,350.95 L422.60,350.98 L422.78,351.01 L422.96,351.04 L423.14,351.07 L423.33,351.10 L423.51,351.13 L423.69,351.16 L423.87,351.19 L424.05,351.22 L424.23,351.25 L424.42,351.28 L424.60,351.31 L424.78,351.34 L424.96,351.38 L425.14,351.41 L425.33,351.44 L425.51,351.47 L425.69,351.50 L425.87,351.53 L426.05,351.56 L426.24,351.59 L426.42,351.62 L426.60,351.65 L426.78,351.68 L426.96,351.71 L427.15,351.74 L427.33,351.77 L427.51,351.80 L427.69,351.83 L427.87,351.86 L428.05,351.89 L428.24,351.92 L428.42,351.95 L428.60,351.98 L428.78,352.01 L428.96,352.04 L429.15,352.06 L429.33,352.09 L429.51,352.12 L429.69,352.15 L429.87,352.17 L430.06,352.20 L430.24,352.23 L430.42,352.26 L430.60,352.28 L430.78,352.31 L430.97,352.33 L431.15,352.36 L431.33,352.39 L431.51,352.41 L431.69,352.44 L431.87,352.46 L432.06,352.49 L432.24,352.51 L432.42,352.53 L432.60,352.56 L432.78,352.58 L432.97,352.61 L433.15,352.63 L433.33,352.66 L433.51,352.68 L433.69,352.70 L433.88,352.73 L434.06,352.75 L434.24,352.77 L434.42,352.80 L434.60,352.82 L434.79,352.84 L434.97,352.86 L435.15,352.88 L435.33,352.91 L435.51,352.93 L435.69,352.95 L435.88,352.97 L436.06,352.99 L436.24,353.01 L436.42,353.03 L436.60,353.05 L436.79,353.07 L436.97,353.09 L437.15,353.11 L437.33,353.13 L437.51,353.15 L437.70,353.17 L437.88,353.19 L438.06,353.21 L438.24,353.23 L438.42,353.25 L438.61,353.26 L438.79,353.28 L438.97,353.30 L439.15,353.32 L439.33,353.33 L439.51,353.35 L439.70,353.37 L439.88,353.38 L440.06,353.40 L440.24,353.42 L440.42,353.43 L440.61,353.45 L440.79,353.46 L440.97,353.48 L441.15,353.50 L441.33,353.51 L441.52,353.53 L441.70,353.54 L441.88,353.56 L442.06,353.57 L442.24,353.59 L442.42,353.60 L442.61,353.62 L442.79,353.63 L442.97,353.64 L443.15,353.66 L443.33,353.67 L443.52,353.69 L443.70,353.70 L443.88,353.71 L444.06,353.72 L444.24,353.74 L444.43,353.75 L444.61,353.76 L444.79,353.78 L444.97,353.79 L445.15,353.80 L445.34,353.81 L445.52,353.82 L445.70,353.83 L445.88,353.85 L446.06,353.86 L446.24,353.87 L446.43,353.88 L446.61,353.89 L446.79,353.90 L446.97,353.91 L447.15,353.92 L447.34,353.93 L447.52,353.94 L447.70,353.95" fill="none" stroke="#006400" stroke-width="2.7" stroke-linejoin="bevel" stroke-linecap="butt" clip-path="url(#clipe)"/>
<path d="M496.90,161.36 L497.05,161.37 L497.20,161.38 L497.35,161.39 L497.51,161.40 L497.66,161.41 L497.81,161.42 L497.96,161.43 L498.11,161.44 L498.26,161.45 L498.41,161.46 L498.57,161.48 L498.72,161.49 L498.87,161.50 L499.02,161.51 L499.17,161.52 L499.32,161.53 L499.47,161.54 L499.62,161.56 L499.78,161.57 L499.93,161.58 L500.08,161.59 L500.23,161.60 L500.38,161.62 L500.53,161.63 L500.68,161.64 L500.84,161.65 L500.99,161.66 L501.14,161.68 L501.29,161.69 L501.44,161.70 L501.59,161.71 L501.74,161.73 L501.90,161.74 L502.05,161.75 L502.20,161.76 L502.35,161.78 L502.50,161.79 L502.65,161.80 L502.80,161.82 L502.96,161.83 L503.11,161.84 L503.26,161.86 L503.41,161.87 L503.56,161.88 L503.71,161.90 L503.86,161.91 L504.01,161.92 L504.17,161.94 L504.32,161.95 L504.47,161.97 L504.62,161.98 L504.77,161.99 L504.92,162.01 L505.07,162.02 L505.23,162.04 L505.38,162.05 L505.53,162.06 L505.68,162.08 L505.83,162.09 L505.98,162.11 L506.13,162.12 L506.29,162.14 L506.44,162.15 L506.59,162.17 L506.74,162.18 L506.89,162.20 L507.04,162.21 L507.19,162.23 L507.34,162.24 L507.50,162.26 L507.65,162.28 L507.80,162.29 L507.95,162.31 L508.10,162.32 L508.25,162.34 L508.40,162.36 L508.56,162.37 L508.71,162.39 L508.86,162.40 L509.01,162.42 L509.16,162.44 L509.31,162.45 L509.46,162.47 L509.62,162.49 L509.77,162.50 L509.92,162.52 L510.07,162.54 L510.22,162.55 L510.37,162.57 L510.52,162.59 L510.68,162.60 L510.83,162.62 L510.98,162.64 L511.13,162.65 L511.28,162.67 L511.43,162.69 L511.58,162.71 L511.73,162.72 L511.89,162.74 L512.04,162.76 L512.19,162.78 L512.34,162.79 L512.49,162.81 L512.64,162.83 L512.79,162.85 L512.95,162.87 L513.10,162.88 L513.25,162.90 L513.40,162.92 L513.55,162.94 L513.70,162.96 L513.85,162.97 L514.01,162.99 L514.16,163.01 L514.31,163.03 L514.46,163.05 L514.61,163.07 L514.76,163.09 L514.91,163.10 L515.07,163.12 L515.22,163.14 L515.37,163.16 L515.52,163.18 L515.67,163.20 L515.82,163.22 L515.97,163.24 L516.12,163.26 L516.28,163.28 L516.43,163.30 L516.58,163.32 L516.73,163.34 L516.88,163.36 L517.03,163.38 L517.18,163.40 L517.34,163.42 L517.49,163.44 L517.64,163.46 L517.79,163.48 L517.94,163.50 L518.09,163.52 L518.24,163.54 L518.40,163.56 L518.55,163.58 L518.70,163.61 L518.85,163.63 L519.00,163.65 L519.15,163.67 L519.30,163.69 L519.46,163.71 L519.61,163.74 L519.76,163.76 L519.91,163.78 L520.06,163.80 L520.21,163.83 L520.36,163.85 L520.51,163.87 L520.67,163.90 L520.82,163.92 L520.97,163.94 L521.12,163.97 L521.27,163.99 L521.42,164.01 L521.57,164.04 L521.73,164.06 L521.88,164.09 L522.03,164.11 L522.18,164.13 L522.33,164.16 L522.48,164.18 L522.63,164.21 L522.79,164.23 L522.94,164.26 L523.09,164.28 L523.24,164.31 L523.39,164.33 L523.54,164.36 L523.69,164.38 L523.84,164.41 L524.00,164.43 L524.15,164.46 L524.30,164.49 L524.45,164.51 L524.60,164.54 L524.75,164.57 L524.90,164.60 L525.06,164.62 L525.21,164.65 L525.36,164.68 L525.51,164.71 L525.66,164.74 L525.81,164.77 L525.96,164.80 L526.12,164.83 L526.27,164.86 L526.42,164.89 L526.57,164.92 L526.72,164.95 L526.87,164.99 L527.02,165.02 L527.18,165.05 L527.33,165.09 L527.48,165.12 L527.63,165.16 L527.78,165.19 L527.93,165.23 L528.08,165.26 L528.23,165.30 L528.39,165.34 L528.54,165.38 L528.69,165.42 L528.84,165.46 L528.99,165.50 L529.14,165.54 L529.29,165.59 L529.45,165.63 L529.60,165.68 L529.75,165.72 L529.90,165.77 L530.05,165.82 L530.20,165.87 L530.35,165.92 L530.51,165.97 L530.66,166.02 L530.81,166.07 L530.96,166.13 L531.11,166.18 L531.26,166.24 L531.41,166.30 L531.57,166.35 L531.72,166.41 L531.87,166.47 L532.02,166.53 L532.17,166.60 L532.32,166.66 L532.47,166.72 L532.62,166.79 L532.78,166.85 L532.93,166.92 L533.08,166.99 L533.23,167.06 L533.38,167.14 L533.53,167.22 L533.68,167.30 L533.84,167.38 L533.99,167.47 L534.14,167.55 L534.29,167.64 L534.44,167.73 L534.59,167.82 L534.74,167.92 L534.90,168.01 L535.05,168.10 L535.20,168.20 L535.35,168.29 L535.50,168.39 L535.65,168.48 L535.80,168.58 L535.96,168.67 L536.11,168.77 L536.26,168.86 L536.41,168.96 L536.56,169.05 L536.71,169.14 L536.86,169.23 L537.01,169.32 L537.17,169.41 L537.32,169.50 L537.47,169.59 L537.62,169.68 L537.77,169.77 L537.92,169.86 L538.07,169.95 L538.23,170.04 L538.38,170.13 L538.53,170.22 L538.68,170.31 L538.83,170.40 L538.98,170.49 L539.13,170.58 L539.29,170.67 L539.44,170.76 L539.59,170.85 L539.74,170.94 L539.89,171.03 L540.04,171.12 L540.19,171.21 L540.34,171.30 L540.50,171.39 L540.65,171.48 L540.80,171.57 L540.95,171.66 L541.10,171.75 L541.25,171.84 L541.40,171.93 L541.56,172.02 L541.71,172.11 L541.86,172.21 L542.01,172.30 L542.16,172.39 L542.31,172.48 L542.46,172.57 L542.62,172.66 L542.77,172.75 L542.92,172.85 L543.07,172.94 L543.22,173.03 L543.37,173.12 L543.52,173.21 L543.68,173.31 L543.83,173.40 L543.98,173.49 L544.13,173.59 L544.28,173.68 L544.43,173.77 L544.58,173.87 L544.73,173.96 L544.89,174.05 L545.04,174.15 L545.19,174.24 L545.34,174.34 L545.49,174.43 L545.64,174.52 L545.79,174.62 L545.95,174.71 L546.10,174.81 L546.25,174.90 L546.40,175.00 L546.55,175.09 L546.70,175.18 L546.85,175.28 L547.01,175.37 L547.16,175.47 L547.31,175.56 L547.46,175.65 L547.61,175.75 L547.76,175.84 L547.91,175.93 L548.07,176.03 L548.22,176.12 L548.37,176.21 L548.52,176.30 L548.67,176.40 L548.82,176.49 L548.97,176.58 L549.12,176.67 L549.28,176.76 L549.43,176.85 L549.58,176.95 L549.73,177.04 L549.88,177.13 L550.03,177.22 L550.18,177.31 L550.34,177.40 L550.49,177.49 L550.64,177.58 L550.79,177.67 L550.94,177.77 L551.09,177.86 L551.24,177.95 L551.40,178.04 L551.55,178.13 L551.70,178.22 L551.85,178.31 L552.00,178.40 L552.15,178.49 L552.30,178.58 L552.46,178.67 L552.61,178.76 L552.76,178.85 L552.91,178.93 L553.06,179.02 L553.21,179.11 L553.36,179.20 L553.51,179.29 L553.67,179.37 L553.82,179.46 L553.97,179.54 L554.12,179.63 L554.27,179.71 L554.42,179.80 L554.57,179.88 L554.73,179.97 L554.88,180.05 L555.03,180.13 L555.18,180.21 L555.33,180.30 L555.48,180.38 L555.63,180.46 L555.79,180.55 L555.94,180.63 L556.09,180.72 L556.24,180.80 L556.39,180.89 L556.54,180.97 L556.69,181.06 L556.84,181.14 L557.00,181.23 L557.15,181.31 L557.30,181.40 L557.45,181.48 L557.60,181.57 L557.75,181.65 L557.90,181.74 L558.06,181.82 L558.21,181.90 L558.36,181.99 L558.51,182.07 L558.66,182.15 L558.81,182.23 L558.96,182.31 L559.12,182.39 L559.27,182.47 L559.42,182.55 L559.57,182.62 L559.72,182.70 L559.87,182.78 L560.02,182.85 L560.18,182.92 L560.33,183.00 L560.48,183.07 L560.63,183.14 L560.78,183.20 L560.93,183.27 L561.08,183.34 L561.23,183.40 L561.39,183.46 L561.54,183.53 L561.69,183.58 L561.84,183.64 L561.99,183.70 L562.14,183.75 L562.29,183.81 L562.45,183.86 L562.60,183.91 L562.75,183.96 L562.90,184.01 L563.05,184.06 L563.20,184.11 L563.35,184.16 L563.51,184.21 L563.66,184.27 L563.81,184.32 L563.96,184.37 L564.11,184.42 L564.26,184.47 L564.41,184.52 L564.57,184.57 L564.72,184.62 L564.87,184.67 L565.02,184.72 L565.17,184.77 L565.32,184.81 L565.47,184.86 L565.62,184.90 L565.78,184.94 L565.93,184.98 L566.08,185.02 L566.23,185.06 L566.38,185.10 L566.53,185.13 L566.68,185.17 L566.84,185.20 L566.99,185.23 L567.14,185.25 L567.29,185.28 L567.44,185.30 L567.59,185.32 L567.74,185.34 L567.90,185.35 L568.05,185.36 L568.20,185.37 L568.35,185.38 L568.50,185.38 L568.65,185.38 L568.80,185.38 L568.96,185.37 L569.11,185.37 L569.26,185.36 L569.41,185.34 L569.56,185.33 L569.71,185.31 L569.86,185.29 L570.01,185.27 L570.17,185.24 L570.32,185.22 L570.47,185.19 L570.62,185.16 L570.77,185.13 L570.92,185.09 L571.07,185.06 L571.23,185.02 L571.38,184.98 L571.53,184.94 L571.68,184.90 L571.83,184.86 L571.98,184.82 L572.13,184.78 L572.29,184.72 L572.44,184.66 L572.59,184.58 L572.74,184.50 L572.89,184.40 L573.04,184.30 L573.19,184.18 L573.34,184.06 L573.50,183.93 L573.65,183.79 L573.80,183.65 L573.95,183.50 L574.10,183.34 L574.25,183.18 L574.40,183.01 L574.56,182.84 L574.71,182.66 L574.86,182.49 L575.01,182.30 L575.16,182.12 L575.31,181.93 L575.46,181.71 L575.62,181.49 L575.77,181.24 L575.92,180.98 L576.07,180.71 L576.22,180.42 L576.37,180.12 L576.52,179.81 L576.68,179.48 L576.83,179.14 L576.98,178.79 L577.13,178.43 L577.28,178.07 L577.43,177.69 L577.58,177.31 L577.73,176.91 L577.89,176.49 L578.04,176.06 L578.19,175.60 L578.34,175.12 L578.49,174.60 L578.64,174.05 L578.79,173.46 L578.95,172.82 L579.10,172.14 L579.25,171.40 L579.40,170.51 L579.55,169.46 L579.70,168.28 L579.85,167.00 L580.01,165.66 L580.16,164.29 L580.31,162.90 L580.46,161.48 L580.61,159.97 L580.76,158.32 L580.91,156.49 L581.07,154.41 L581.22,152.01 L581.37,149.29 L581.52,146.28 L581.67,143.02 L581.82,139.53 L581.97,135.85 L582.12,132.03 L582.28,128.08 L582.43,124.05 L582.58,120.03 L582.73,115.85 L582.88,111.29 L583.03,106.11 L583.18,100.06 L583.34,92.80 L583.49,82.25 L583.64,68.72 L583.79,53.48 L583.94,37.83 L584.09,23.05 L584.24,9.27 L584.40,-4.69 L584.55,-18.67 L584.70,-32.50 L584.85,-46.02 L585.00,-59.05 L585.15,-71.98 L585.30,-85.20 L585.46,-98.05 L585.61,-109.86 L585.76,-119.94 L585.91,-127.97 L586.06,-135.69 L586.21,-143.31 L586.36,-150.68 L586.51,-157.65 L586.67,-164.09 L586.82,-169.84 L586.97,-174.76 L587.12,-178.70 L587.27,-181.53 L587.42,-183.08 L587.57,-183.23 L587.73,-181.95 L587.88,-179.37 L588.03,-175.64 L588.18,-170.90 L588.33,-165.31 L588.48,-159.00 L588.63,-152.12 L588.79,-144.82 L588.94,-137.24 L589.09,-129.53 L589.24,-121.70 L589.39,-112.05 L589.54,-100.54 L589.69,-87.84 L589.84,-74.64 L590.00,-61.60 L590.15,-48.41 L590.30,-34.26 L590.45,-19.73 L590.60,-5.39 L590.75,8.20 L590.90,20.47 L591.06,31.69 L591.21,42.68 L591.36,53.32 L591.51,63.44 L591.66,72.90 L591.81,81.54 L591.96,89.22 L592.12,95.77 L592.27,101.48 L592.42,106.63 L592.57,111.30 L592.72,115.60 L592.87,119.60 L593.02,123.40 L593.18,127.08 L593.33,130.68 L593.48,134.17 L593.63,137.54 L593.78,140.77 L593.93,143.85 L594.08,146.75 L594.23,149.46 L594.39,151.95 L594.54,154.23 L594.69,156.27 L594.84,158.13 L594.99,159.84 L595.14,161.40 L595.29,162.82 L595.45,164.12 L595.60,165.35 L595.75,166.52 L595.90,167.64 L596.05,168.70 L596.20,169.68 L596.35,170.60 L596.51,171.44 L596.66,172.19 L596.81,172.87 L596.96,173.52 L597.11,174.13 L597.26,174.72 L597.41,175.28 L597.57,175.82 L597.72,176.33 L597.87,176.82 L598.02,177.28 L598.17,177.72 L598.32,178.13 L598.47,178.52 L598.62,178.89 L598.78,179.24 L598.93,179.56 L599.08,179.88 L599.23,180.19 L599.38,180.49 L599.53,180.78 L599.68,181.07 L599.84,181.34 L599.99,181.61 L600.14,181.86 L600.29,182.11 L600.44,182.34 L600.59,182.55 L600.74,182.75 L600.90,182.94 L601.05,183.11 L601.20,183.27 L601.35,183.41 L601.50,183.53 L601.65,183.64 L601.80,183.75 L601.96,183.86 L602.11,183.96 L602.26,184.07 L602.41,184.17 L602.56,184.27 L602.71,184.37 L602.86,184.46 L603.01,184.55 L603.17,184.63 L603.32,184.72 L603.47,184.79 L603.62,184.87 L603.77,184.94 L603.92,185.00 L604.07,185.06 L604.23,185.11 L604.38,185.15 L604.53,185.19 L604.68,185.23 L604.83,185.25 L604.98,185.27 L605.13,185.29 L605.29,185.29 L605.44,185.29 L605.59,185.29 L605.74,185.28 L605.89,185.27 L606.04,185.26 L606.19,185.25 L606.34,185.23 L606.50,185.22 L606.65,185.20 L606.80,185.18 L606.95,185.15 L607.10,185.13 L607.25,185.10 L607.40,185.07 L607.56,185.04 L607.71,185.01 L607.86,184.98 L608.01,184.94 L608.16,184.91 L608.31,184.87 L608.46,184.83 L608.62,184.80 L608.77,184.76 L608.92,184.71 L609.07,184.67 L609.22,184.63 L609.37,184.59 L609.52,184.54 L609.68,184.50 L609.83,184.45 L609.98,184.41 L610.13,184.36 L610.28,184.31 L610.43,184.27 L610.58,184.22 L610.73,184.18 L610.89,184.13 L611.04,184.08 L611.19,184.04 L611.34,183.99 L611.49,183.94 L611.64,183.90 L611.79,183.85 L611.95,183.80 L612.10,183.76 L612.25,183.70 L612.40,183.65 L612.55,183.60 L612.70,183.54 L612.85,183.49 L613.01,183.43 L613.16,183.37 L613.31,183.31 L613.46,183.25 L613.61,183.18 L613.76,183.12 L613.91,183.05 L614.07,182.99 L614.22,182.92 L614.37,182.85 L614.52,182.78 L614.67,182.71 L614.82,182.63 L614.97,182.56 L615.12,182.48 L615.28,182.41 L615.43,182.33 L615.58,182.25 L615.73,182.18 L615.88,182.10 L616.03,182.02 L616.18,181.94 L616.34,181.86 L616.49,181.77 L616.64,181.69 L616.79,181.61 L616.94,181.52 L617.09,181.44 L617.24,181.36 L617.40,181.27 L617.55,181.19 L617.70,181.10 L617.85,181.01 L618.00,180.93 L618.15,180.84 L618.30,180.75 L618.46,180.67 L618.61,180.58 L618.76,180.49 L618.91,180.40 L619.06,180.31 L619.21,180.23 L619.36,180.14 L619.51,180.05 L619.67,179.96 L619.82,179.87 L619.97,179.79 L620.12,179.70 L620.27,179.61 L620.42,179.52 L620.57,179.44 L620.73,179.35 L620.88,179.26 L621.03,179.18 L621.18,179.09 L621.33,179.00 L621.48,178.92 L621.63,178.83 L621.79,178.74 L621.94,178.65 L622.09,178.56 L622.24,178.47 L622.39,178.38 L622.54,178.28 L622.69,178.19 L622.84,178.10 L623.00,178.01 L623.15,177.91 L623.30,177.82 L623.45,177.72 L623.60,177.63 L623.75,177.53 L623.90,177.43 L624.06,177.34 L624.21,177.24 L624.36,177.14 L624.51,177.04 L624.66,176.94 L624.81,176.84 L624.96,176.75 L625.12,176.65 L625.27,176.55 L625.42,176.45 L625.57,176.35 L625.72,176.24 L625.87,176.14 L626.02,176.04 L626.18,175.94 L626.33,175.84 L626.48,175.74 L626.63,175.64 L626.78,175.53 L626.93,175.43 L627.08,175.33 L627.23,175.23 L627.39,175.12 L627.54,175.02 L627.69,174.92 L627.84,174.82 L627.99,174.71 L628.14,174.61 L628.29,174.51 L628.45,174.41 L628.60,174.30 L628.75,174.20 L628.90,174.10 L629.05,174.00 L629.20,173.90 L629.35,173.79 L629.51,173.69 L629.66,173.59 L629.81,173.49 L629.96,173.39 L630.11,173.29 L630.26,173.18 L630.41,173.08 L630.57,172.98 L630.72,172.88 L630.87,172.78 L631.02,172.67 L631.17,172.57 L631.32,172.47 L631.47,172.36 L631.62,172.26 L631.78,172.15 L631.93,172.04 L632.08,171.94 L632.23,171.83 L632.38,171.72 L632.53,171.61 L632.68,171.50 L632.84,171.40 L632.99,171.29 L633.14,171.18 L633.29,171.07 L633.44,170.96 L633.59,170.85 L633.74,170.74 L633.90,170.64 L634.05,170.53 L634.20,170.42 L634.35,170.31 L634.50,170.20 L634.65,170.10 L634.80,169.99 L634.96,169.88 L635.11,169.77 L635.26,169.67 L635.41,169.56 L635.56,169.46 L635.71,169.35 L635.86,169.25 L636.01,169.14 L636.17,169.04 L636.32,168.94 L636.47,168.84 L636.62,168.74 L636.77,168.64 L636.92,168.54 L637.07,168.44 L637.23,168.34 L637.38,168.24 L637.53,168.15 L637.68,168.05 L637.83,167.96 L637.98,167.87 L638.13,167.78 L638.29,167.69 L638.44,167.60 L638.59,167.51 L638.74,167.42 L638.89,167.34 L639.04,167.25 L639.19,167.16 L639.34,167.08 L639.50,166.99 L639.65,166.90 L639.80,166.82 L639.95,166.73 L640.10,166.64 L640.25,166.56 L640.40,166.47 L640.56,166.39 L640.71,166.31 L640.86,166.22 L641.01,166.14 L641.16,166.06 L641.31,165.98 L641.46,165.90 L641.62,165.82 L641.77,165.74 L641.92,165.66 L642.07,165.59 L642.22,165.51 L642.37,165.44 L642.52,165.36 L642.68,165.29 L642.83,165.22 L642.98,165.15 L643.13,165.09 L643.28,165.02 L643.43,164.96 L643.58,164.90 L643.73,164.84 L643.89,164.78 L644.04,164.72 L644.19,164.67 L644.34,164.61 L644.49,164.56 L644.64,164.51 L644.79,164.46 L644.95,164.41 L645.10,164.37 L645.25,164.32 L645.40,164.27 L645.55,164.22 L645.70,164.18 L645.85,164.13 L646.01,164.09 L646.16,164.04 L646.31,164.00 L646.46,163.95 L646.61,163.91 L646.76,163.87 L646.91,163.83 L647.07,163.79 L647.22,163.75 L647.37,163.71 L647.52,163.67 L647.67,163.63 L647.82,163.59 L647.97,163.55 L648.12,163.51 L648.28,163.47 L648.43,163.44 L648.58,163.40 L648.73,163.36 L648.88,163.33 L649.03,163.29 L649.18,163.26 L649.34,163.23 L649.49,163.19 L649.64,163.16 L649.79,163.12 L649.94,163.09 L650.09,163.06 L650.24,163.03 L650.40,163.00 L650.55,162.97 L650.70,162.94 L650.85,162.91 L651.00,162.88 L651.15,162.85 L651.30,162.82 L651.46,162.79 L651.61,162.76 L651.76,162.73 L651.91,162.71 L652.06,162.68 L652.21,162.65 L652.36,162.62 L652.51,162.60 L652.67,162.57 L652.82,162.55 L652.97,162.52 L653.12,162.50 L653.27,162.47 L653.42,162.45 L653.57,162.42 L653.73,162.40 L653.88,162.37 L654.03,162.35 L654.18,162.33 L654.33,162.30 L654.48,162.28 L654.63,162.26 L654.79,162.23 L654.94,162.21 L655.09,162.19 L655.24,162.17 L655.39,162.14 L655.54,162.12 L655.69,162.10 L655.84,162.08 L656.00,162.06 L656.15,162.04 L656.30,162.02 L656.45,161.99 L656.60,161.97 L656.75,161.95 L656.90,161.93 L657.06,161.91 L657.21,161.89 L657.36,161.87 L657.51,161.85 L657.66,161.83 L657.81,161.82 L657.96,161.80 L658.12,161.78 L658.27,161.76 L658.42,161.74 L658.57,161.72 L658.72,161.70 L658.87,161.68 L659.02,161.67 L659.18,161.65 L659.33,161.63 L659.48,161.61 L659.63,161.59 L659.78,161.58 L659.93,161.56 L660.08,161.54 L660.23,161.52 L660.39,161.51 L660.54,161.49 L660.69,161.47 L660.84,161.46 L660.99,161.44 L661.14,161.42 L661.29,161.40 L661.45,161.39 L661.60,161.37 L661.75,161.35 L661.90,161.34 L662.05,161.32 L662.20,161.31 L662.35,161.29 L662.51,161.27 L662.66,161.26 L662.81,161.24 L662.96,161.22 L663.11,161.21 L663.26,161.19 L663.41,161.18 L663.57,161.16 L663.72,161.14 L663.87,161.13 L664.02,161.11 L664.17,161.10 L664.32,161.08 L664.47,161.07 L664.62,161.05 L664.78,161.03 L664.93,161.02 L665.08,161.00 L665.23,160.99 L665.38,160.97 L665.53,160.96 L665.68,160.94 L665.84,160.93 L665.99,160.91 L666.14,160.90 L666.29,160.88 L666.44,160.86 L666.59,160.85 L666.74,160.83 L666.90,160.82 L667.05,160.80 L667.20,160.79 L667.35,160.77 L667.50,160.76 L667.65,160.74 L667.80,160.73 L667.96,160.72 L668.11,160.70 L668.26,160.69 L668.41,160.67 L668.56,160.66 L668.71,160.64 L668.86,160.63 L669.01,160.61 L669.17,160.60 L669.32,160.59 L669.47,160.57 L669.62,160.56 L669.77,160.54 L669.92,160.53 L670.07,160.51 L670.23,160.50 L670.38,160.49 L670.53,160.47 L670.68,160.46 L670.83,160.45 L670.98,160.43 L671.13,160.42 L671.29,160.41 L671.44,160.39 L671.59,160.38 L671.74,160.37 L671.89,160.35 L672.04,160.34 L672.19,160.33 L672.34,160.31 L672.50,160.30 L672.65,160.29 L672.80,160.28 L672.95,160.26 L673.10,160.25 L673.25,160.24 L673.40,160.22 L673.56,160.21 L673.71,160.20 L673.86,160.19 L674.01,160.18 L674.16,160.16 L674.31,160.15 L674.46,160.14 L674.62,160.13 L674.77,160.12 L674.92,160.10 L675.07,160.09 L675.22,160.08 L675.37,160.07 L675.52,160.06 L675.68,160.05 L675.83,160.04 L675.98,160.02 L676.13,160.01 L676.28,160.00 L676.43,159.99 L676.58,159.98 L676.73,159.97 L676.89,159.96 L677.04,159.95 L677.19,159.94 L677.34,159.93 L677.49,159.92 L677.64,159.91 L677.79,159.90 L677.95,159.89 L678.10,159.88 L678.25,159.87 L678.40,159.86" fill="none" stroke="#006400" stroke-width="2.7" stroke-linejoin="bevel" stroke-linecap="butt" clip-path="url(#clipc)"/>
<path d="M496.90,374.27 L497.05,374.28 L497.20,374.29 L497.35,374.30 L497.51,374.32 L497.66,374.33 L497.81,374.34 L497.96,374.36 L498.11,374.37 L498.26,374.38 L498.41,374.40 L498.57,374.41 L498.72,374.42 L498.87,374.44 L499.02,374.45 L499.17,374.47 L499.32,374.48 L499.47,374.50 L499.62,374.51 L499.78,374.53 L499.93,374.55 L500.08,374.56 L500.23,374.58 L500.38,374.59 L500.53,374.61 L500.68,374.63 L500.84,374.64 L500.99,374.66 L501.14,374.68 L501.29,374.69 L501.44,374.71 L501.59,374.73 L501.74,374.75 L501.90,374.77 L502.05,374.78 L502.20,374.80 L502.35,374.82 L502.50,374.84 L502.65,374.86 L502.80,374.88 L502.96,374.90 L503.11,374.92 L503.26,374.93 L503.41,374.95 L503.56,374.97 L503.71,374.99 L503.86,375.01 L504.01,375.03 L504.17,375.05 L504.32,375.07 L504.47,375.09 L504.62,375.11 L504.77,375.13 L504.92,375.16 L505.07,375.18 L505.23,375.20 L505.38,375.22 L505.53,375.24 L505.68,375.26 L505.83,375.28 L505.98,375.30 L506.13,375.32 L506.29,375.35 L506.44,375.37 L506.59,375.39 L506.74,375.41 L506.89,375.43 L507.04,375.46 L507.19,375.48 L507.34,375.50 L507.50,375.53 L507.65,375.55 L507.80,375.57 L507.95,375.60 L508.10,375.62 L508.25,375.65 L508.40,375.67 L508.56,375.70 L508.71,375.72 L508.86,375.75 L509.01,375.78 L509.16,375.80 L509.31,375.83 L509.46,375.86 L509.62,375.88 L509.77,375.91 L509.92,375.94 L510.07,375.97 L510.22,375.99 L510.37,376.02 L510.52,376.05 L510.68,376.08 L510.83,376.11 L510.98,376.14 L511.13,376.17 L511.28,376.20 L511.43,376.23 L511.58,376.26 L511.73,376.29 L511.89,376.32 L512.04,376.35 L512.19,376.38 L512.34,376.41 L512.49,376.44 L512.64,376.47 L512.79,376.50 L512.95,376.53 L513.10,376.56 L513.25,376.59 L513.40,376.63 L513.55,376.66 L513.70,376.69 L513.85,376.72 L514.01,376.75 L514.16,376.79 L514.31,376.82 L514.46,376.85 L514.61,376.88 L514.76,376.91 L514.91,376.95 L515.07,376.98 L515.22,377.01 L515.37,377.05 L515.52,377.08 L515.67,377.11 L515.82,377.14 L515.97,377.18 L516.12,377.21 L516.28,377.24 L516.43,377.27 L516.58,377.31 L516.73,377.34 L516.88,377.37 L517.03,377.41 L517.18,377.44 L517.34,377.47 L517.49,377.51 L517.64,377.54 L517.79,377.57 L517.94,377.61 L518.09,377.64 L518.24,377.68 L518.40,377.71 L518.55,377.75 L518.70,377.78 L518.85,377.82 L519.00,377.85 L519.15,377.89 L519.30,377.92 L519.46,377.96 L519.61,377.99 L519.76,378.03 L519.91,378.07 L520.06,378.11 L520.21,378.14 L520.36,378.18 L520.51,378.22 L520.67,378.26 L520.82,378.30 L520.97,378.34 L521.12,378.38 L521.27,378.42 L521.42,378.46 L521.57,378.50 L521.73,378.54 L521.88,378.59 L522.03,378.63 L522.18,378.67 L522.33,378.72 L522.48,378.76 L522.63,378.81 L522.79,378.85 L522.94,378.90 L523.09,378.94 L523.24,378.99 L523.39,379.04 L523.54,379.09 L523.69,379.14 L523.84,379.18 L524.00,379.23 L524.15,379.29 L524.30,379.34 L524.45,379.39 L524.60,379.44 L524.75,379.49 L524.90,379.55 L525.06,379.60 L525.21,379.66 L525.36,379.71 L525.51,379.77 L525.66,379.83 L525.81,379.89 L525.96,379.95 L526.12,380.01 L526.27,380.07 L526.42,380.13 L526.57,380.19 L526.72,380.26 L526.87,380.32 L527.02,380.39 L527.18,380.45 L527.33,380.52 L527.48,380.59 L527.63,380.66 L527.78,380.73 L527.93,380.80 L528.08,380.87 L528.23,380.95 L528.39,381.02 L528.54,381.10 L528.69,381.18 L528.84,381.26 L528.99,381.34 L529.14,381.42 L529.29,381.51 L529.45,381.60 L529.60,381.70 L529.75,381.80 L529.90,381.90 L530.05,382.01 L530.20,382.12 L530.35,382.23 L530.51,382.34 L530.66,382.46 L530.81,382.57 L530.96,382.69 L531.11,382.81 L531.26,382.93 L531.41,383.06 L531.57,383.18 L531.72,383.30 L531.87,383.43 L532.02,383.55 L532.17,383.67 L532.32,383.79 L532.47,383.92 L532.62,384.04 L532.78,384.16 L532.93,384.28 L533.08,384.39 L533.23,384.51 L533.38,384.62 L533.53,384.73 L533.68,384.84 L533.84,384.95 L533.99,385.06 L534.14,385.17 L534.29,385.28 L534.44,385.39 L534.59,385.50 L534.74,385.61 L534.90,385.72 L535.05,385.83 L535.20,385.94 L535.35,386.05 L535.50,386.16 L535.65,386.27 L535.80,386.37 L535.96,386.48 L536.11,386.59 L536.26,386.69 L536.41,386.80 L536.56,386.90 L536.71,387.01 L536.86,387.11 L537.01,387.21 L537.17,387.32 L537.32,387.42 L537.47,387.52 L537.62,387.62 L537.77,387.71 L537.92,387.81 L538.07,387.91 L538.23,388.00 L538.38,388.09 L538.53,388.18 L538.68,388.28 L538.83,388.37 L538.98,388.46 L539.13,388.55 L539.29,388.64 L539.44,388.73 L539.59,388.82 L539.74,388.91 L539.89,389.00 L540.04,389.09 L540.19,389.17 L540.34,389.26 L540.50,389.35 L540.65,389.43 L540.80,389.52 L540.95,389.60 L541.10,389.69 L541.25,389.77 L541.40,389.86 L541.56,389.94 L541.71,390.02 L541.86,390.10 L542.01,390.19 L542.16,390.27 L542.31,390.35 L542.46,390.43 L542.62,390.51 L542.77,390.59 L542.92,390.67 L543.07,390.75 L543.22,390.83 L543.37,390.90 L543.52,390.98 L543.68,391.06 L543.83,391.14 L543.98,391.21 L544.13,391.29 L544.28,391.36 L544.43,391.44 L544.58,391.51 L544.73,391.59 L544.89,391.66 L545.04,391.74 L545.19,391.81 L545.34,391.88 L545.49,391.95 L545.64,392.03 L545.79,392.10 L545.95,392.17 L546.10,392.24 L546.25,392.31 L546.40,392.39 L546.55,392.46 L546.70,392.53 L546.85,392.60 L547.01,392.67 L547.16,392.74 L547.31,392.81 L547.46,392.88 L547.61,392.95 L547.76,393.02 L547.91,393.09 L548.07,393.15 L548.22,393.22 L548.37,393.29 L548.52,393.36 L548.67,393.42 L548.82,393.49 L548.97,393.56 L549.12,393.62 L549.28,393.69 L549.43,393.75 L549.58,393.82 L549.73,393.88 L549.88,393.95 L550.03,394.01 L550.18,394.08 L550.34,394.14 L550.49,394.20 L550.64,394.26 L550.79,394.33 L550.94,394.39 L551.09,394.45 L551.24,394.51 L551.40,394.57 L551.55,394.63 L551.70,394.69 L551.85,394.74 L552.00,394.80 L552.15,394.86 L552.30,394.92 L552.46,394.97 L552.61,395.03 L552.76,395.09 L552.91,395.14 L553.06,395.19 L553.21,395.25 L553.36,395.30 L553.51,395.35 L553.67,395.41 L553.82,395.46 L553.97,395.51 L554.12,395.57 L554.27,395.62 L554.42,395.67 L554.57,395.72 L554.73,395.78 L554.88,395.83 L555.03,395.88 L555.18,395.93 L555.33,395.98 L555.48,396.03 L555.63,396.09 L555.79,396.14 L555.94,396.19 L556.09,396.24 L556.24,396.29 L556.39,396.34 L556.54,396.38 L556.69,396.43 L556.84,396.48 L557.00,396.53 L557.15,396.57 L557.30,396.62 L557.45,396.67 L557.60,396.71 L557.75,396.75 L557.90,396.80 L558.06,396.84 L558.21,396.88 L558.36,396.93 L558.51,396.97 L558.66,397.01 L558.81,397.05 L558.96,397.08 L559.12,397.12 L559.27,397.16 L559.42,397.19 L559.57,397.23 L559.72,397.26 L559.87,397.30 L560.02,397.33 L560.18,397.36 L560.33,397.39 L560.48,397.42 L560.63,397.45 L560.78,397.48 L560.93,397.51 L561.08,397.54 L561.23,397.57 L561.39,397.60 L561.54,397.63 L561.69,397.66 L561.84,397.69 L561.99,397.71 L562.14,397.74 L562.29,397.77 L562.45,397.80 L562.60,397.82 L562.75,397.85 L562.90,397.87 L563.05,397.89 L563.20,397.91 L563.35,397.93 L563.51,397.94 L563.66,397.96 L563.81,397.97 L563.96,397.98 L564.11,397.99 L564.26,398.00 L564.41,398.00 L564.57,398.00 L564.72,397.99 L564.87,397.99 L565.02,397.97 L565.17,397.96 L565.32,397.94 L565.47,397.92 L565.62,397.89 L565.78,397.86 L565.93,397.83 L566.08,397.80 L566.23,397.76 L566.38,397.73 L566.53,397.69 L566.68,397.65 L566.84,397.60 L566.99,397.56 L567.14,397.52 L567.29,397.47 L567.44,397.43 L567.59,397.38 L567.74,397.34 L567.90,397.29 L568.05,397.25 L568.20,397.20 L568.35,397.14 L568.50,397.08 L568.65,397.02 L568.80,396.96 L568.96,396.89 L569.11,396.82 L569.26,396.74 L569.41,396.65 L569.56,396.57 L569.71,396.47 L569.86,396.37 L570.01,396.26 L570.17,396.13 L570.32,395.98 L570.47,395.82 L570.62,395.64 L570.77,395.46 L570.92,395.27 L571.07,395.07 L571.23,394.86 L571.38,394.65 L571.53,394.44 L571.68,394.22 L571.83,394.01 L571.98,393.80 L572.13,393.57 L572.29,393.34 L572.44,393.10 L572.59,392.85 L572.74,392.60 L572.89,392.33 L573.04,392.05 L573.19,391.76 L573.34,391.46 L573.50,391.15 L573.65,390.82 L573.80,390.48 L573.95,390.12 L574.10,389.75 L574.25,389.36 L574.40,388.96 L574.56,388.55 L574.71,388.13 L574.86,387.69 L575.01,387.24 L575.16,386.77 L575.31,386.29 L575.46,385.80 L575.62,385.29 L575.77,384.77 L575.92,384.23 L576.07,383.68 L576.22,383.11 L576.37,382.52 L576.52,381.91 L576.68,381.28 L576.83,380.63 L576.98,379.96 L577.13,379.27 L577.28,378.56 L577.43,377.82 L577.58,377.05 L577.73,376.23 L577.89,375.37 L578.04,374.47 L578.19,373.53 L578.34,372.55 L578.49,371.53 L578.64,370.48 L578.79,369.38 L578.95,368.26 L579.10,367.09 L579.25,365.90 L579.40,364.62 L579.55,363.24 L579.70,361.79 L579.85,360.28 L580.01,358.71 L580.16,357.10 L580.31,355.46 L580.46,353.81 L580.61,352.18 L580.76,350.63 L580.91,349.11 L581.07,347.53 L581.22,345.80 L581.37,343.86 L581.52,341.62 L581.67,338.98 L581.82,335.64 L581.97,331.59 L582.12,326.89 L582.28,321.61 L582.43,315.79 L582.58,309.50 L582.73,302.82 L582.88,295.78 L583.03,288.47 L583.18,280.93 L583.34,272.63 L583.49,262.88 L583.64,252.12 L583.79,240.81 L583.94,229.27 L584.09,216.77 L584.24,203.44 L584.40,189.73 L584.55,176.08 L584.70,162.93 L584.85,150.72 L585.00,138.84 L585.15,126.94 L585.30,115.43 L585.46,104.71 L585.61,95.21 L585.76,87.30 L585.91,80.10 L586.06,72.89 L586.21,65.79 L586.36,58.94 L586.51,52.47 L586.67,46.50 L586.82,41.19 L586.97,36.64 L587.12,33.00 L587.27,30.40 L587.42,28.97 L587.57,28.83 L587.73,30.02 L587.88,32.39 L588.03,35.83 L588.18,40.20 L588.33,45.38 L588.48,51.22 L588.63,57.60 L588.79,64.38 L588.94,71.44 L589.09,78.64 L589.24,85.86 L589.39,93.49 L589.54,102.78 L589.69,113.36 L589.84,124.79 L590.00,136.63 L590.15,148.41 L590.30,160.31 L590.45,173.46 L590.60,187.24 L590.75,200.96 L590.90,213.90 L591.06,225.38 L591.21,234.69 L591.36,242.43 L591.51,249.38 L591.66,255.69 L591.81,261.54 L591.96,267.08 L592.12,272.48 L592.27,277.91 L592.42,283.50 L592.57,289.23 L592.72,295.02 L592.87,300.81 L593.02,306.53 L593.18,312.12 L593.33,317.50 L593.48,322.61 L593.63,327.37 L593.78,331.73 L593.93,335.61 L594.08,338.95 L594.23,341.73 L594.39,344.17 L594.54,346.35 L594.69,348.32 L594.84,350.16 L594.99,351.93 L595.14,353.68 L595.29,355.41 L595.45,357.08 L595.60,358.69 L595.75,360.24 L595.90,361.73 L596.05,363.15 L596.20,364.50 L596.35,365.78 L596.51,366.98 L596.66,368.14 L596.81,369.27 L596.96,370.37 L597.11,371.43 L597.26,372.45 L597.41,373.43 L597.57,374.37 L597.72,375.28 L597.87,376.14 L598.02,376.96 L598.17,377.74 L598.32,378.49 L598.47,379.21 L598.62,379.91 L598.78,380.60 L598.93,381.26 L599.08,381.90 L599.23,382.52 L599.38,383.13 L599.53,383.71 L599.68,384.27 L599.84,384.81 L599.99,385.34 L600.14,385.84 L600.29,386.33 L600.44,386.79 L600.59,387.23 L600.74,387.67 L600.90,388.10 L601.05,388.52 L601.20,388.94 L601.35,389.35 L601.50,389.75 L601.65,390.14 L601.80,390.52 L601.96,390.89 L602.11,391.25 L602.26,391.60 L602.41,391.94 L602.56,392.26 L602.71,392.57 L602.86,392.86 L603.01,393.13 L603.17,393.39 L603.32,393.64 L603.47,393.86 L603.62,394.07 L603.77,394.26 L603.92,394.44 L604.07,394.62 L604.23,394.79 L604.38,394.95 L604.53,395.11 L604.68,395.27 L604.83,395.42 L604.98,395.56 L605.13,395.69 L605.29,395.83 L605.44,395.95 L605.59,396.07 L605.74,396.18 L605.89,396.29 L606.04,396.39 L606.19,396.49 L606.34,396.58 L606.50,396.66 L606.65,396.74 L606.80,396.81 L606.95,396.89 L607.10,396.96 L607.25,397.03 L607.40,397.10 L607.56,397.17 L607.71,397.24 L607.86,397.31 L608.01,397.37 L608.16,397.44 L608.31,397.50 L608.46,397.56 L608.62,397.61 L608.77,397.67 L608.92,397.72 L609.07,397.76 L609.22,397.81 L609.37,397.85 L609.52,397.88 L609.68,397.91 L609.83,397.94 L609.98,397.96 L610.13,397.98 L610.28,397.99 L610.43,398.00 L610.58,398.00 L610.73,398.00 L610.89,397.99 L611.04,397.99 L611.19,397.99 L611.34,397.98 L611.49,397.97 L611.64,397.96 L611.79,397.95 L611.95,397.94 L612.10,397.93 L612.25,397.92 L612.40,397.91 L612.55,397.89 L612.70,397.88 L612.85,397.86 L613.01,397.84 L613.16,397.83 L613.31,397.81 L613.46,397.79 L613.61,397.77 L613.76,397.75 L613.91,397.73 L614.07,397.71 L614.22,397.69 L614.37,397.66 L614.52,397.64 L614.67,397.62 L614.82,397.60 L614.97,397.57 L615.12,397.55 L615.28,397.51 L615.43,397.48 L615.58,397.44 L615.73,397.39 L615.88,397.35 L616.03,397.30 L616.18,397.24 L616.34,397.19 L616.49,397.13 L616.64,397.07 L616.79,397.01 L616.94,396.95 L617.09,396.89 L617.24,396.83 L617.40,396.76 L617.55,396.70 L617.70,396.63 L617.85,396.57 L618.00,396.50 L618.15,396.44 L618.30,396.38 L618.46,396.31 L618.61,396.25 L618.76,396.19 L618.91,396.14 L619.06,396.08 L619.21,396.02 L619.36,395.96 L619.51,395.90 L619.67,395.84 L619.82,395.78 L619.97,395.72 L620.12,395.66 L620.27,395.60 L620.42,395.54 L620.57,395.47 L620.73,395.41 L620.88,395.35 L621.03,395.29 L621.18,395.23 L621.33,395.16 L621.48,395.10 L621.63,395.04 L621.79,394.97 L621.94,394.91 L622.09,394.85 L622.24,394.78 L622.39,394.72 L622.54,394.65 L622.69,394.59 L622.84,394.53 L623.00,394.46 L623.15,394.40 L623.30,394.33 L623.45,394.26 L623.60,394.20 L623.75,394.13 L623.90,394.07 L624.06,394.00 L624.21,393.93 L624.36,393.87 L624.51,393.80 L624.66,393.73 L624.81,393.66 L624.96,393.60 L625.12,393.53 L625.27,393.46 L625.42,393.39 L625.57,393.32 L625.72,393.26 L625.87,393.19 L626.02,393.12 L626.18,393.05 L626.33,392.98 L626.48,392.91 L626.63,392.84 L626.78,392.77 L626.93,392.70 L627.08,392.63 L627.23,392.56 L627.39,392.49 L627.54,392.42 L627.69,392.35 L627.84,392.28 L627.99,392.21 L628.14,392.14 L628.29,392.07 L628.45,392.00 L628.60,391.92 L628.75,391.85 L628.90,391.78 L629.05,391.71 L629.20,391.64 L629.35,391.57 L629.51,391.49 L629.66,391.42 L629.81,391.35 L629.96,391.27 L630.11,391.20 L630.26,391.13 L630.41,391.05 L630.57,390.98 L630.72,390.91 L630.87,390.83 L631.02,390.76 L631.17,390.68 L631.32,390.60 L631.47,390.53 L631.62,390.45 L631.78,390.37 L631.93,390.30 L632.08,390.22 L632.23,390.14 L632.38,390.06 L632.53,389.98 L632.68,389.90 L632.84,389.82 L632.99,389.74 L633.14,389.66 L633.29,389.58 L633.44,389.50 L633.59,389.42 L633.74,389.34 L633.90,389.25 L634.05,389.17 L634.20,389.08 L634.35,389.00 L634.50,388.91 L634.65,388.83 L634.80,388.74 L634.96,388.65 L635.11,388.57 L635.26,388.48 L635.41,388.39 L635.56,388.30 L635.71,388.21 L635.86,388.12 L636.01,388.02 L636.17,387.93 L636.32,387.84 L636.47,387.74 L636.62,387.65 L636.77,387.55 L636.92,387.45 L637.07,387.35 L637.23,387.26 L637.38,387.16 L637.53,387.06 L637.68,386.96 L637.83,386.85 L637.98,386.75 L638.13,386.65 L638.29,386.55 L638.44,386.44 L638.59,386.34 L638.74,386.23 L638.89,386.12 L639.04,386.02 L639.19,385.91 L639.34,385.80 L639.50,385.69 L639.65,385.58 L639.80,385.47 L639.95,385.36 L640.10,385.25 L640.25,385.13 L640.40,385.02 L640.56,384.90 L640.71,384.78 L640.86,384.65 L641.01,384.52 L641.16,384.39 L641.31,384.26 L641.46,384.12 L641.62,383.99 L641.77,383.85 L641.92,383.71 L642.07,383.57 L642.22,383.43 L642.37,383.29 L642.52,383.16 L642.68,383.02 L642.83,382.88 L642.98,382.75 L643.13,382.61 L643.28,382.48 L643.43,382.35 L643.58,382.23 L643.73,382.10 L643.89,381.98 L644.04,381.87 L644.19,381.76 L644.34,381.65 L644.49,381.55 L644.64,381.45 L644.79,381.35 L644.95,381.25 L645.10,381.15 L645.25,381.05 L645.40,380.96 L645.55,380.86 L645.70,380.77 L645.85,380.68 L646.01,380.59 L646.16,380.50 L646.31,380.41 L646.46,380.32 L646.61,380.23 L646.76,380.15 L646.91,380.06 L647.07,379.98 L647.22,379.90 L647.37,379.82 L647.52,379.74 L647.67,379.66 L647.82,379.59 L647.97,379.51 L648.12,379.44 L648.28,379.37 L648.43,379.30 L648.58,379.23 L648.73,379.16 L648.88,379.09 L649.03,379.03 L649.18,378.96 L649.34,378.90 L649.49,378.84 L649.64,378.78 L649.79,378.72 L649.94,378.66 L650.09,378.60 L650.24,378.54 L650.40,378.48 L650.55,378.42 L650.70,378.36 L650.85,378.31 L651.00,378.25 L651.15,378.20 L651.30,378.14 L651.46,378.09 L651.61,378.03 L651.76,377.98 L651.91,377.93 L652.06,377.88 L652.21,377.83 L652.36,377.77 L652.51,377.72 L652.67,377.67 L652.82,377.63 L652.97,377.58 L653.12,377.53 L653.27,377.48 L653.42,377.44 L653.57,377.39 L653.73,377.34 L653.88,377.30 L654.03,377.25 L654.18,377.21 L654.33,377.16 L654.48,377.12 L654.63,377.08 L654.79,377.04 L654.94,376.99 L655.09,376.95 L655.24,376.91 L655.39,376.87 L655.54,376.83 L655.69,376.79 L655.84,376.75 L656.00,376.71 L656.15,376.67 L656.30,376.64 L656.45,376.60 L656.60,376.56 L656.75,376.52 L656.90,376.49 L657.06,376.45 L657.21,376.41 L657.36,376.38 L657.51,376.34 L657.66,376.30 L657.81,376.27 L657.96,376.23 L658.12,376.20 L658.27,376.16 L658.42,376.13 L658.57,376.09 L658.72,376.06 L658.87,376.03 L659.02,375.99 L659.18,375.96 L659.33,375.92 L659.48,375.89 L659.63,375.86 L659.78,375.83 L659.93,375.79 L660.08,375.76 L660.23,375.73 L660.39,375.70 L660.54,375.67 L660.69,375.64 L660.84,375.60 L660.99,375.57 L661.14,375.54 L661.29,375.51 L661.45,375.48 L661.60,375.45 L661.75,375.42 L661.90,375.39 L662.05,375.36 L662.20,375.34 L662.35,375.31 L662.51,375.28 L662.66,375.25 L662.81,375.22 L662.96,375.19 L663.11,375.17 L663.26,375.14 L663.41,375.11 L663.57,375.08 L663.72,375.06 L663.87,375.03 L664.02,375.00 L664.17,374.98 L664.32,374.95 L664.47,374.93 L664.62,374.90 L664.78,374.88 L664.93,374.85 L665.08,374.83 L665.23,374.80 L665.38,374.78 L665.53,374.75 L665.68,374.73 L665.84,374.70 L665.99,374.68 L666.14,374.66 L666.29,374.63 L666.44,374.61 L666.59,374.59 L666.74,374.56 L666.90,374.54 L667.05,374.52 L667.20,374.50 L667.35,374.47 L667.50,374.45 L667.65,374.43 L667.80,374.41 L667.96,374.39 L668.11,374.36 L668.26,374.34 L668.41,374.32 L668.56,374.30 L668.71,374.28 L668.86,374.26 L669.01,374.23 L669.17,374.21 L669.32,374.19 L669.47,374.17 L669.62,374.15 L669.77,374.13 L669.92,374.11 L670.07,374.09 L670.23,374.07 L670.38,374.05 L670.53,374.03 L670.68,374.01 L670.83,373.99 L670.98,373.97 L671.13,373.95 L671.29,373.93 L671.44,373.91 L671.59,373.89 L671.74,373.87 L671.89,373.85 L672.04,373.83 L672.19,373.81 L672.34,373.79 L672.50,373.77 L672.65,373.75 L672.80,373.74 L672.95,373.72 L673.10,373.70 L673.25,373.68 L673.40,373.66 L673.56,373.65 L673.71,373.63 L673.86,373.61 L674.01,373.59 L674.16,373.58 L674.31,373.56 L674.46,373.54 L674.62,373.53 L674.77,373.51 L674.92,373.50 L675.07,373.48 L675.22,373.46 L675.37,373.45 L675.52,373.43 L675.68,373.42 L675.83,373.40 L675.98,373.39 L676.13,373.37 L676.28,373.36 L676.43,373.34 L676.58,373.33 L676.73,373.32 L676.89,373.30 L677.04,373.29 L677.19,373.27 L677.34,373.26 L677.49,373.25 L677.64,373.24 L677.79,373.22 L677.95,373.21 L678.10,373.20 L678.25,373.19 L678.40,373.17" fill="none" stroke="#006400" stroke-width="2.7" stroke-linejoin="bevel" stroke-linecap="butt" clip-path="url(#clipf)"/>
<text x="102.40" y="12.00" text-anchor="start" fill="#000" stroke="#000" stroke-width="0.30" style='font-family:"Liberation Serif", serif;font-size:16.8px;' ><tspan font-style="italic">s</tspan>-wave</text>
<text x="308.00" y="11.60" text-anchor="start" fill="#000"  style='font-family:"Liberation Serif", serif;font-size:17px;font-style:italic;' >d</text>
<text x="316.60" y="14.30" text-anchor="start" fill="#000"  style='font-family:"Liberation Serif", serif;font-size:12.6px;font-style:italic;' textLength="7.0" lengthAdjust="spacingAndGlyphs">x</text>
<text x="324.20" y="10.90" text-anchor="start" fill="#000" stroke="#000" stroke-width="0.17" style='font-family:"Liberation Serif", serif;font-size:9.4px;' >2</text>
<line x1="331.90" y1="11.50" x2="338.60" y2="11.50" stroke="#000" stroke-width="0.75"/>
<text x="340.60" y="14.30" text-anchor="start" fill="#000"  style='font-family:"Liberation Serif", serif;font-size:12.6px;font-style:italic;' textLength="6.6" lengthAdjust="spacingAndGlyphs">y</text>
<text x="348.40" y="10.90" text-anchor="start" fill="#000" stroke="#000" stroke-width="0.17" style='font-family:"Liberation Serif", serif;font-size:9.4px;' >2</text>
<text x="355.40" y="12.00" text-anchor="start" fill="#000" stroke="#000" stroke-width="0.30" style='font-family:"Liberation Serif", serif;font-size:16.8px;' >-wave</text>
<text x="559.80" y="11.80" text-anchor="start" fill="#000"  style='font-family:"Liberation Serif", serif;font-size:17px;font-style:italic;' >d</text>
<text x="568.40" y="14.50" text-anchor="start" fill="#000"  style='font-family:"Liberation Serif", serif;font-size:12.6px;font-style:italic;' textLength="14.6" lengthAdjust="spacingAndGlyphs">xy</text>
<text x="583.00" y="11.60" text-anchor="start" fill="#000" stroke="#000" stroke-width="0.30" style='font-family:"Liberation Serif", serif;font-size:16.8px;' >-wave</text>
<text x="45.50" y="45.40" fill="#000" stroke="#000" stroke-width="0.25" style='font-family:"Liberation Sans", sans-serif;font-size:18.9px;font-weight:bold;'>a</text>
<text x="273.00" y="45.90" fill="#000" stroke="#000" stroke-width="0.25" style='font-family:"Liberation Sans", sans-serif;font-size:18.9px;font-weight:bold;'>b</text>
<text x="506.80" y="45.40" fill="#000" stroke="#000" stroke-width="0.25" style='font-family:"Liberation Sans", sans-serif;font-size:18.9px;font-weight:bold;'>c</text>
<text x="45.30" y="258.00" fill="#000" stroke="#000" stroke-width="0.25" style='font-family:"Liberation Sans", sans-serif;font-size:18.9px;font-weight:bold;'>d</text>
<text x="272.60" y="258.30" fill="#000" stroke="#000" stroke-width="0.25" style='font-family:"Liberation Sans", sans-serif;font-size:18.9px;font-weight:bold;'>e</text>
<text x="506.60" y="257.80" fill="#000" stroke="#000" stroke-width="0.25" style='font-family:"Liberation Sans", sans-serif;font-size:18.9px;font-weight:bold;'>f</text>
<text x="71.90" y="45.00" text-anchor="start" fill="#000"  style='font-family:"Liberation Serif", serif;font-size:17px;font-style:italic;' >t</text>
<text x="78.60" y="47.60" text-anchor="start" fill="#000"  style='font-family:"Liberation Serif", serif;font-size:12.2px;font-style:italic;' textLength="7.2" lengthAdjust="spacingAndGlyphs">J</text>
<line x1="92.70" y1="39.70" x2="104.00" y2="39.70" stroke="#000" stroke-width="0.85"/>
<line x1="92.70" y1="42.60" x2="104.00" y2="42.60" stroke="#000" stroke-width="0.85"/>
<text x="110.00" y="45.00" text-anchor="start" fill="#000"  style='font-family:"Liberation Serif", serif;font-size:16.8px;' >0</text>
<text x="67.50" y="256.90" text-anchor="start" fill="#000"  style='font-family:"Liberation Serif", serif;font-size:17px;font-style:italic;' >t</text>
<text x="74.20" y="259.50" text-anchor="start" fill="#000"  style='font-family:"Liberation Serif", serif;font-size:12.2px;font-style:italic;' textLength="7.2" lengthAdjust="spacingAndGlyphs">J</text>
<line x1="88.30" y1="251.60" x2="99.60" y2="251.60" stroke="#000" stroke-width="0.85"/>
<line x1="88.30" y1="254.50" x2="99.60" y2="254.50" stroke="#000" stroke-width="0.85"/>
<text x="105.60" y="256.90" text-anchor="start" fill="#000"  style='font-family:"Liberation Serif", serif;font-size:16.8px;' >0.25</text>
<text x="135.50" y="256.90" text-anchor="start" fill="#000"  style='font-family:"Liberation Serif", serif;font-size:17px;font-style:italic;' >t</text>
<text x="107.60" y="451.90" text-anchor="start" fill="#000"  style='font-family:"Liberation Serif", serif;font-size:17px;font-style:italic;' >e</text>
<text x="115.20" y="451.90" text-anchor="start" fill="#000"  style='font-family:"Liberation Serif", serif;font-size:17px;font-style:italic;' >V</text>
<line x1="128.00" y1="456.10" x2="134.60" y2="439.70" stroke="#000" stroke-width="0.9"/>
<text x="135.40" y="451.90" text-anchor="start" fill="#000"  style='font-family:"Liberation Serif", serif;font-size:17px;' textLength="12.6" lengthAdjust="spacingAndGlyphs">Δ</text>
<text x="335.60" y="451.90" text-anchor="start" fill="#000"  style='font-family:"Liberation Serif", serif;font-size:17px;font-style:italic;' >e</text>
<text x="343.20" y="451.90" text-anchor="start" fill="#000"  style='font-family:"Liberation Serif", serif;font-size:17px;font-style:italic;' >V</text>
<line x1="356.00" y1="456.10" x2="362.60" y2="439.70" stroke="#000" stroke-width="0.9"/>
<text x="363.40" y="451.90" text-anchor="start" fill="#000"  style='font-family:"Liberation Serif", serif;font-size:17px;' textLength="12.6" lengthAdjust="spacingAndGlyphs">Δ</text>
<text x="571.30" y="451.90" text-anchor="start" fill="#000"  style='font-family:"Liberation Serif", serif;font-size:17px;font-style:italic;' >e</text>
<text x="578.90" y="451.90" text-anchor="start" fill="#000"  style='font-family:"Liberation Serif", serif;font-size:17px;font-style:italic;' >V</text>
<line x1="591.70" y1="456.10" x2="598.30" y2="439.70" stroke="#000" stroke-width="0.9"/>
<text x="599.10" y="451.90" text-anchor="start" fill="#000"  style='font-family:"Liberation Serif", serif;font-size:17px;' textLength="12.6" lengthAdjust="spacingAndGlyphs">Δ</text>
<g transform="translate(13.40,158.10) rotate(-90)" fill="#006400">
<text x="-0.60" y="0.00" text-anchor="start" fill="#006400"  style='font-family:"Liberation Serif", serif;font-size:17px;font-style:italic;' >σ</text>
<line x1="2.4" y1="-10.2" x2="8.4" y2="-10.2" stroke="#006400" stroke-width="0.95"/>
<text x="11.40" y="0.90" text-anchor="start" fill="#006400"  style='font-family:"Liberation Serif", serif;font-size:18.5px;' >(</text>
<text x="17.40" y="0.00" text-anchor="start" fill="#006400"  style='font-family:"Liberation Serif", serif;font-size:17px;font-style:italic;' >e</text>
<text x="25.20" y="0.00" text-anchor="start" fill="#006400"  style='font-family:"Liberation Serif", serif;font-size:17px;font-style:italic;' >V</text>
<text x="38.60" y="0.90" text-anchor="start" fill="#006400"  style='font-family:"Liberation Serif", serif;font-size:18.5px;' >)</text>
<line x1="46.4" y1="4.2" x2="52.7" y2="-12.8" stroke="#006400" stroke-width="0.95"/>
<text x="52.60" y="0.00" text-anchor="start" fill="#006400"  style='font-family:"Liberation Serif", serif;font-size:17px;font-style:italic;' >σ</text>
<text x="63.20" y="3.00" text-anchor="start" fill="#006400"  style='font-family:"Liberation Serif", serif;font-size:11.8px;' >N</text>
</g>
<g transform="translate(13.40,358.50) rotate(-90)" fill="#006400">
<text x="-0.60" y="0.00" text-anchor="start" fill="#006400"  style='font-family:"Liberation Serif", serif;font-size:17px;font-style:italic;' >σ</text>
<line x1="2.4" y1="-10.2" x2="8.4" y2="-10.2" stroke="#006400" stroke-width="0.95"/>
<text x="11.40" y="0.90" text-anchor="start" fill="#006400"  style='font-family:"Liberation Serif", serif;font-size:18.5px;' >(</text>
<text x="17.40" y="0.00" text-anchor="start" fill="#006400"  style='font-family:"Liberation Serif", serif;font-size:17px;font-style:italic;' >e</text>
<text x="25.20" y="0.00" text-anchor="start" fill="#006400"  style='font-family:"Liberation Serif", serif;font-size:17px;font-style:italic;' >V</text>
<text x="38.60" y="0.90" text-anchor="start" fill="#006400"  style='font-family:"Liberation Serif", serif;font-size:18.5px;' >)</text>
<line x1="46.4" y1="4.2" x2="52.7" y2="-12.8" stroke="#006400" stroke-width="0.95"/>
<text x="52.60" y="0.00" text-anchor="start" fill="#006400"  style='font-family:"Liberation Serif", serif;font-size:17px;font-style:italic;' >σ</text>
<text x="63.20" y="3.00" text-anchor="start" fill="#006400"  style='font-family:"Liberation Serif", serif;font-size:11.8px;' >N</text>
</g>
</svg>
</body></html>
